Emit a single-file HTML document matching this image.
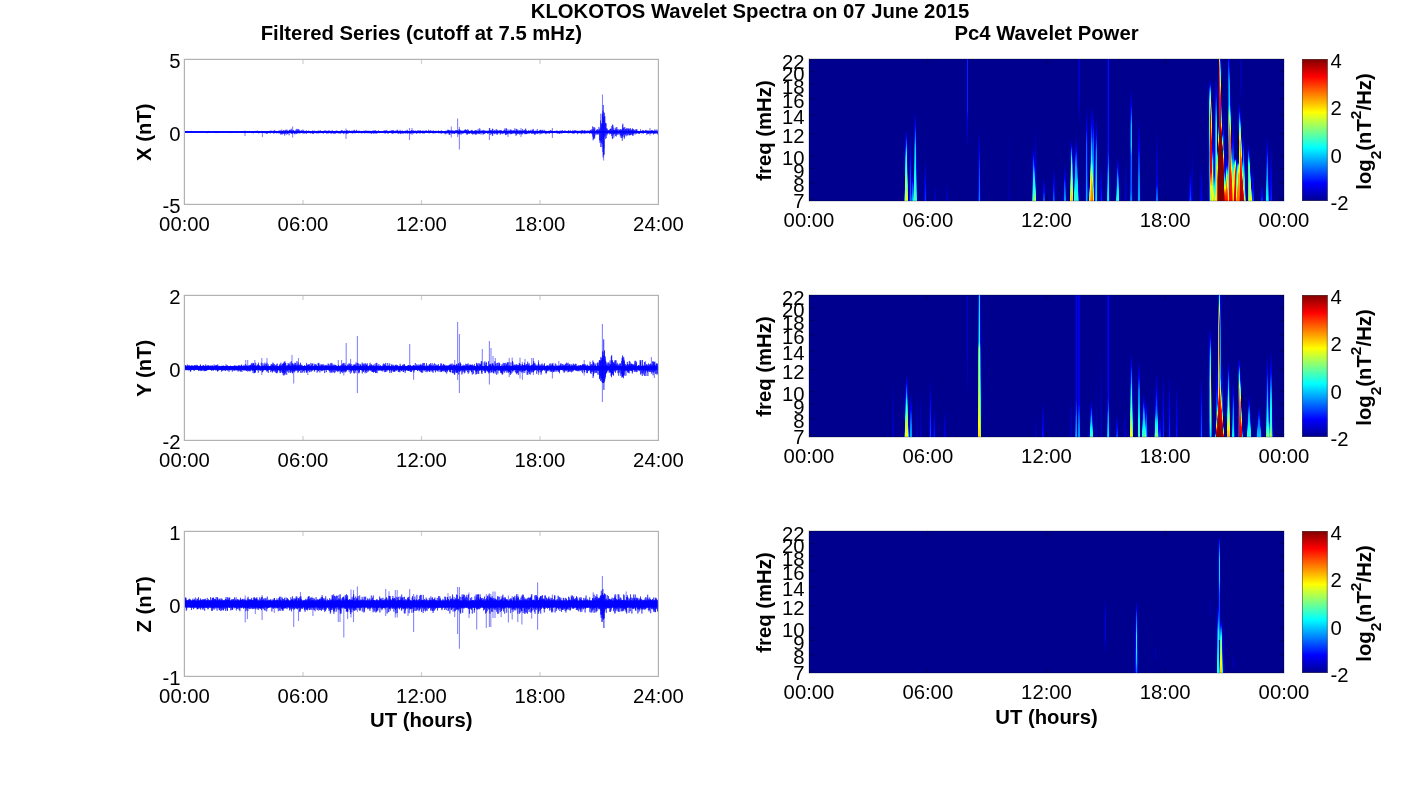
<!DOCTYPE html>
<html lang="en"><head><meta charset="utf-8"><title>KLOKOTOS Wavelet Spectra on 07 June 2015</title>
<style>html,body{margin:0;padding:0;background:#fff;overflow:hidden}svg{display:block}text{fill:#000}</style></head>
<body>
<svg width="1418" height="788" viewBox="0 0 1418 788" font-family="'Liberation Sans', Arial, Helvetica, sans-serif" font-size="20.3">
<defs>
<filter id="jet" filterUnits="userSpaceOnUse" x="790" y="40" width="520" height="660" color-interpolation-filters="sRGB"><feGaussianBlur stdDeviation="0.7 0.4"/><feComponentTransfer><feFuncR type="table" tableValues="0 0 0 0 .5 1 1 1 .5"/><feFuncG type="table" tableValues="0 0 .5 1 1 1 .5 0 0"/><feFuncB type="table" tableValues=".5625 1 1 1 .5 0 0 0 0"/></feComponentTransfer></filter>
<linearGradient id="cb" x1="0" y1="1" x2="0" y2="0"><stop offset="0" stop-color="#00008f"/><stop offset=".125" stop-color="#0000ff"/><stop offset=".375" stop-color="#00ffff"/><stop offset=".625" stop-color="#ffff00"/><stop offset=".875" stop-color="#ff0000"/><stop offset="1" stop-color="#800000"/></linearGradient>
<linearGradient id="pL" x1="0" y1="1" x2="0" y2="0"><stop offset="0%" stop-color="#fff" stop-opacity="1"/><stop offset="100%" stop-color="#fff" stop-opacity="0"/></linearGradient>
<linearGradient id="pC" x1="0" y1="1" x2="0" y2="0"><stop offset="0%" stop-color="#fff" stop-opacity="1"/><stop offset="35%" stop-color="#fff" stop-opacity="0.5"/><stop offset="100%" stop-color="#fff" stop-opacity="0"/></linearGradient>
<linearGradient id="pV" x1="0" y1="1" x2="0" y2="0"><stop offset="0%" stop-color="#fff" stop-opacity="1"/><stop offset="60%" stop-color="#fff" stop-opacity="0.75"/><stop offset="100%" stop-color="#fff" stop-opacity="0"/></linearGradient>
<linearGradient id="pI" x1="0" y1="1" x2="0" y2="0"><stop offset="0%" stop-color="#fff" stop-opacity="0"/><stop offset="45%" stop-color="#fff" stop-opacity="1"/><stop offset="100%" stop-color="#fff" stop-opacity="1"/></linearGradient>
<linearGradient id="pU" x1="0" y1="1" x2="0" y2="0"><stop offset="0%" stop-color="#fff" stop-opacity="1"/><stop offset="100%" stop-color="#fff" stop-opacity="1"/></linearGradient>
<linearGradient id="pM" x1="0" y1="1" x2="0" y2="0"><stop offset="0%" stop-color="#fff" stop-opacity="0.58"/><stop offset="12%" stop-color="#fff" stop-opacity="0.7"/><stop offset="25%" stop-color="#fff" stop-opacity="1"/><stop offset="70%" stop-color="#fff" stop-opacity="1"/><stop offset="85%" stop-color="#fff" stop-opacity="0.6"/><stop offset="100%" stop-color="#fff" stop-opacity="0"/></linearGradient>
<linearGradient id="pN" x1="0" y1="1" x2="0" y2="0"><stop offset="0%" stop-color="#fff" stop-opacity="0.55"/><stop offset="15%" stop-color="#fff" stop-opacity="0.85"/><stop offset="30%" stop-color="#fff" stop-opacity="1"/><stop offset="50%" stop-color="#fff" stop-opacity="1"/><stop offset="80%" stop-color="#fff" stop-opacity="0.5"/><stop offset="100%" stop-color="#fff" stop-opacity="0"/></linearGradient>
<clipPath id="c0"><rect x="809" y="59" width="475" height="142"/></clipPath>
<clipPath id="c1"><rect x="809" y="295" width="475" height="142"/></clipPath>
<clipPath id="c2"><rect x="809" y="531" width="475" height="142"/></clipPath>
</defs>
<g font-weight="bold" text-anchor="middle">
<text x="750" y="17.8">KLOKOTOS Wavelet Spectra on 07 June 2015</text>
<text x="421.3" y="39.5">Filtered Series (cutoff at 7.5 mHz)</text>
<text x="1046.5" y="39.5">Pc4 Wavelet Power</text>
<text x="421.3" y="727.2">UT (hours)</text>
<text x="1046.5" y="723.5">UT (hours)</text>
<text transform="translate(151.3 132.3) rotate(-90)">X (nT)</text>
<text transform="translate(151.3 368.3) rotate(-90)">Y (nT)</text>
<text transform="translate(151.3 604.3) rotate(-90)">Z (nT)</text>
<text transform="translate(770.5 130.5) rotate(-90)">freq (mHz)</text>
<text transform="translate(1371.2 131.5) rotate(-90)">log<tspan font-size="15.5" dy="10">2</tspan><tspan dy="-10">(nT</tspan><tspan font-size="15.5" dy="-10">2</tspan><tspan dy="10">/Hz)</tspan></text>
<text transform="translate(770.5 366.5) rotate(-90)">freq (mHz)</text>
<text transform="translate(1371.2 367.5) rotate(-90)">log<tspan font-size="15.5" dy="10">2</tspan><tspan dy="-10">(nT</tspan><tspan font-size="15.5" dy="-10">2</tspan><tspan dy="10">/Hz)</tspan></text>
<text transform="translate(770.5 602.5) rotate(-90)">freq (mHz)</text>
<text transform="translate(1371.2 603.5) rotate(-90)">log<tspan font-size="15.5" dy="10">2</tspan><tspan dy="-10">(nT</tspan><tspan font-size="15.5" dy="-10">2</tspan><tspan dy="10">/Hz)</tspan></text>
</g>
<g text-anchor="middle">
<text x="184.5" y="231">00:00</text>
<text x="303" y="231">06:00</text>
<text x="421.5" y="231">12:00</text>
<text x="540" y="231">18:00</text>
<text x="658.5" y="231">24:00</text>
</g>
<g text-anchor="end">
<text x="180.6" y="68.3">5</text>
<text x="180.6" y="140.8">0</text>
<text x="180.6" y="213.3">-5</text>
</g>
<g text-anchor="middle">
<text x="184.5" y="467">00:00</text>
<text x="303" y="467">06:00</text>
<text x="421.5" y="467">12:00</text>
<text x="540" y="467">18:00</text>
<text x="658.5" y="467">24:00</text>
</g>
<g text-anchor="end">
<text x="180.6" y="304.3">2</text>
<text x="180.6" y="376.8">0</text>
<text x="180.6" y="449.3">-2</text>
</g>
<g text-anchor="middle">
<text x="184.5" y="703">00:00</text>
<text x="303" y="703">06:00</text>
<text x="421.5" y="703">12:00</text>
<text x="540" y="703">18:00</text>
<text x="658.5" y="703">24:00</text>
</g>
<g text-anchor="end">
<text x="180.6" y="540.3">1</text>
<text x="180.6" y="612.8">0</text>
<text x="180.6" y="685.3">-1</text>
</g>
<g text-anchor="middle">
<text x="809" y="226.8">00:00</text>
<text x="927.8" y="226.8">06:00</text>
<text x="1046.5" y="226.8">12:00</text>
<text x="1165.2" y="226.8">18:00</text>
<text x="1284" y="226.8">00:00</text>
</g>
<g text-anchor="end">
<text x="804.6" y="208.1">7</text>
<text x="804.6" y="191.9">8</text>
<text x="804.6" y="177.6">9</text>
<text x="804.6" y="164.9">10</text>
<text x="804.6" y="142.8">12</text>
<text x="804.6" y="124.1">14</text>
<text x="804.6" y="107.9">16</text>
<text x="804.6" y="93.6">18</text>
<text x="804.6" y="80.9">20</text>
<text x="804.6" y="69.3">22</text>
</g>
<rect x="1302" y="59" width="25.7" height="142" fill="url(#cb)"/>
<rect x="1302.5" y="59.5" width="24.7" height="141" fill="none" stroke="#444" stroke-opacity=".55" stroke-width="1"/>
<text x="1330.4" y="68.1">4</text>
<text x="1330.4" y="115.4">2</text>
<text x="1330.4" y="162.8">0</text>
<text x="1330.4" y="210.1">-2</text>
<g text-anchor="middle">
<text x="809" y="462.8">00:00</text>
<text x="927.8" y="462.8">06:00</text>
<text x="1046.5" y="462.8">12:00</text>
<text x="1165.2" y="462.8">18:00</text>
<text x="1284" y="462.8">00:00</text>
</g>
<g text-anchor="end">
<text x="804.6" y="444.1">7</text>
<text x="804.6" y="427.9">8</text>
<text x="804.6" y="413.6">9</text>
<text x="804.6" y="400.9">10</text>
<text x="804.6" y="378.8">12</text>
<text x="804.6" y="360.1">14</text>
<text x="804.6" y="343.9">16</text>
<text x="804.6" y="329.6">18</text>
<text x="804.6" y="316.9">20</text>
<text x="804.6" y="305.3">22</text>
</g>
<rect x="1302" y="295" width="25.7" height="142" fill="url(#cb)"/>
<rect x="1302.5" y="295.5" width="24.7" height="141" fill="none" stroke="#444" stroke-opacity=".55" stroke-width="1"/>
<text x="1330.4" y="304.1">4</text>
<text x="1330.4" y="351.4">2</text>
<text x="1330.4" y="398.8">0</text>
<text x="1330.4" y="446.1">-2</text>
<g text-anchor="middle">
<text x="809" y="698.8">00:00</text>
<text x="927.8" y="698.8">06:00</text>
<text x="1046.5" y="698.8">12:00</text>
<text x="1165.2" y="698.8">18:00</text>
<text x="1284" y="698.8">00:00</text>
</g>
<g text-anchor="end">
<text x="804.6" y="680.1">7</text>
<text x="804.6" y="663.9">8</text>
<text x="804.6" y="649.6">9</text>
<text x="804.6" y="636.9">10</text>
<text x="804.6" y="614.8">12</text>
<text x="804.6" y="596.1">14</text>
<text x="804.6" y="579.9">16</text>
<text x="804.6" y="565.6">18</text>
<text x="804.6" y="552.9">20</text>
<text x="804.6" y="541.3">22</text>
</g>
<rect x="1302" y="531" width="25.7" height="142" fill="url(#cb)"/>
<rect x="1302.5" y="531.5" width="24.7" height="141" fill="none" stroke="#444" stroke-opacity=".55" stroke-width="1"/>
<text x="1330.4" y="540.1">4</text>
<text x="1330.4" y="587.4">2</text>
<text x="1330.4" y="634.8">0</text>
<text x="1330.4" y="682.1">-2</text>
<path d="M303 59.5v4.5M303 204.5v-4.5M421.5 59.5v4.5M421.5 204.5v-4.5M540 59.5v4.5M540 204.5v-4.5M184.5 132h4.5M658.5 132h-4.5" stroke="#cfcfcf" stroke-width="1.2" fill="none"/>
<path d="M303 295.5v4.5M303 440.5v-4.5M421.5 295.5v4.5M421.5 440.5v-4.5M540 295.5v4.5M540 440.5v-4.5M184.5 368h4.5M658.5 368h-4.5" stroke="#cfcfcf" stroke-width="1.2" fill="none"/>
<path d="M303 531.5v4.5M303 676.5v-4.5M421.5 531.5v4.5M421.5 676.5v-4.5M540 531.5v4.5M540 676.5v-4.5M184.5 604h4.5M658.5 604h-4.5" stroke="#cfcfcf" stroke-width="1.2" fill="none"/>
<path d="M184.5 132H658.5" stroke="#00f" stroke-width="1.7" fill="none"/>
<path d="M184.5 131.2 184.7 132.6 184.9 131.2 185.1 132.6 185.3 131.2 185.5 132.5 185.7 131.4 185.9 132.8 186.1 131.2 186.3 132.8 186.5 131.3 186.7 132.6 186.9 131.1 187.1 132.8 187.3 131.5 187.5 132.6 187.7 130.9 187.9 132.6 188.1 131.3 188.3 132.8 188.5 131.5 188.7 132.5 188.9 131.4 189.1 132.5 189.3 131.4 189.5 132.7 189.7 131.2 189.9 132.6 190.1 131.1 190.3 132.7 190.5 131.1 190.7 132.6 190.9 131.1 191.1 132.5 191.3 131.3 191.5 132.6 191.7 130.9 191.9 132.5 192.1 131.3 192.3 132.8 192.5 131.4 192.7 132.7 192.9 131.5 193.1 132.6 193.3 131.5 193.5 132.8 193.7 131.4 193.9 132.7 194.1 131 194.3 132.6 194.5 131.3 194.7 132.5 194.9 131.3 195.1 132.7 195.3 131.2 195.5 132.5 195.7 131.2 195.9 132.7 196.1 131.5 196.3 132.7 196.5 131.3 196.7 132.6 196.9 131.1 197.1 132.6 197.3 131.4 197.5 132.6 197.7 131.4 197.9 132.6 198.1 131.4 198.3 132.7 198.5 131.2 198.7 132.6 198.9 131.3 199.1 132.9 199.3 131.3 199.5 132.8 199.7 131.3 199.9 132.7 200.1 131.4 200.3 132.7 200.5 131.1 200.7 132.6 200.9 131.3 201.1 133 201.3 131.4 201.5 132.7 201.7 131.3 201.9 132.8 202.1 130.9 202.3 132.9 202.5 131.4 202.7 132.7 202.9 131.5 203.1 132.7 203.3 131.5 203.5 132.6 203.7 131.2 203.9 132.7 204.1 131.5 204.3 132.8 204.5 131.3 204.7 132.7 204.9 131.2 205.1 132.6 205.3 131.1 205.5 132.7 205.7 131.4 205.9 132.6 206.1 131.1 206.3 132.8 206.5 131.5 206.7 132.7 206.9 131.5 207.1 133.1 207.3 131.3 207.5 133.1 207.7 131.2 207.9 132.7 208.1 131.4 208.3 132.6 208.5 130.9 208.7 132.7 208.9 131.5 209.1 132.9 209.3 131.5 209.5 133 209.7 131.3 209.9 132.6 210.1 131.3 210.3 132.9 210.5 131.3 210.7 132.6 210.9 131 211.1 132.7 211.3 131.3 211.5 132.6 211.7 131.3 211.9 132.6 212.1 131.3 212.3 132.5 212.5 131.4 212.7 132.5 212.9 131.4 213.1 132.7 213.3 131.4 213.5 132.6 213.7 131.2 213.9 132.9 214.1 131.1 214.3 132.6 214.5 131.4 214.7 132.8 214.9 131.4 215.1 132.6 215.3 131 215.5 132.6 215.7 131.3 215.9 133.1 216.1 131.1 216.3 132.6 216.5 131.1 216.7 132.6 216.9 131.1 217.1 133.1 217.3 131.2 217.5 132.7 217.7 131.4 217.9 133 218.1 131.5 218.3 132.9 218.5 131.3 218.7 133 218.9 131.3 219.1 132.8 219.3 131.1 219.5 132.8 219.7 131.1 219.9 132.7 220.1 131.3 220.3 132.8 220.5 131.3 220.7 132.7 220.9 131.2 221.1 132.7 221.3 131.2 221.5 132.7 221.7 131 221.9 132.5 222.1 131.5 222.3 132.8 222.5 131.5 222.7 132.8 222.9 131.1 223.1 132.7 223.3 131.1 223.5 132.7 223.7 131.2 223.9 132.6 224.1 131.3 224.3 132.5 224.5 131.4 224.7 132.8 224.9 131.1 225.1 132.9 225.3 131.5 225.5 132.5 225.7 131.4 225.9 132.9 226.1 131.4 226.3 132.7 226.5 131.2 226.7 132.7 226.9 131 227.1 132.7 227.3 131.3 227.5 132.8 227.7 131.4 227.9 132.8 228.1 131.3 228.3 133 228.5 131.3 228.7 132.7 228.9 131.3 229.1 132.6 229.3 131.3 229.5 132.7 229.7 131.2 229.9 132.9 230.1 131.3 230.3 133.1 230.5 131.5 230.7 132.7 230.9 131.3 231.1 132.6 231.3 131.4 231.5 132.8 231.7 131.3 231.9 132.7 232.1 131.3 232.3 132.9 232.5 131.2 232.7 132.5 232.9 131.4 233.1 132.5 233.3 131.4 233.5 132.6 233.7 131.4 233.9 132.8 234.1 131.3 234.3 132.9 234.5 131.4 234.7 132.5 234.9 131.4 235.1 132.5 235.3 131.4 235.5 132.7 235.7 131.4 235.9 132.6 236.1 131.3 236.3 132.7 236.5 131.2 236.7 132.8 236.9 131.3 237.1 133.1 237.3 131.4 237.5 132.7 237.7 131.3 237.9 132.5 238.1 131.2 238.3 132.5 238.5 131.5 238.7 132.7 238.9 131.5 239.1 132.7 239.3 131.4 239.5 132.8 239.7 131.2 239.9 132.8 240.1 131.1 240.3 132.8 240.5 131.4 240.7 132.6 240.9 131.1 241.1 132.7 241.3 131.3 241.5 132.7 241.7 131.1 241.9 132.9 242.1 131.2 242.3 132.8 242.5 131.1 242.7 132.8 242.9 131.2 243.1 132.6 243.3 131.4 243.5 132.7 243.7 131.4 243.9 133 244.1 131.2 244.3 132.9 244.5 131.3 244.7 133.1 244.9 130.7 245.1 132.6 245.3 131 245.5 132.6 245.7 131.2 245.9 133.1 246.1 131.3 246.3 132.7 246.5 131.2 246.7 132.7 246.9 131 247.1 132.7 247.3 131.4 247.5 132.5 247.7 131.4 247.9 132.6 248.1 131.4 248.3 132.7 248.5 131.2 248.7 133 248.9 131.4 249.1 132.7 249.3 130.9 249.5 132.6 249.7 131.2 249.9 133 250.1 131.1 250.3 132.7 250.5 131.3 250.7 132.6 250.9 131.4 251.1 133 251.3 131.3 251.5 133.1 251.7 131.2 251.9 132.9 252.1 131.2 252.3 132.9 252.5 131.3 252.7 132.9 252.9 131 253.1 133.2 253.3 131.3 253.5 133.3 253.7 131 253.9 132.6 254.1 131.2 254.3 132.6 254.5 131 254.7 132.6 254.9 131.4 255.1 132.6 255.3 131 255.5 132.6 255.7 130.9 255.9 133 256.1 131 256.3 132.7 256.5 131.4 256.7 132.7 256.9 131.1 257.1 132.6 257.3 130.5 257.5 132.8 257.7 131.4 257.9 133 258.1 131.2 258.3 132.9 258.5 131.1 258.7 133.4 258.9 131.1 259.1 132.6 259.3 131.3 259.5 133.1 259.7 131.3 259.9 132.6 260.1 131.5 260.3 132.6 260.5 131.4 260.7 132.8 260.9 131.3 261.1 132.9 261.3 131.1 261.5 133 261.7 130.9 261.9 133 262.1 131.1 262.3 132.9 262.5 131.5 262.7 132.8 262.9 131 263.1 132.6 263.3 131.1 263.5 132.9 263.7 131.2 263.9 132.6 264.1 131.3 264.3 133.2 264.5 131.1 264.7 133 264.9 131.1 265.1 133.1 265.3 131.3 265.5 132.8 265.7 131.4 265.9 133.4 266.1 131.1 266.3 132.8 266.5 131 266.7 133.6 266.9 131.1 267.1 133.8 267.3 131.3 267.5 132.7 267.7 131.4 267.9 133.3 268.1 131.5 268.3 132.7 268.5 131.2 268.7 133 268.9 131.4 269.1 132.8 269.3 130.8 269.5 133 269.7 131.1 269.9 132.5 270.1 131 270.3 133.6 270.5 131.2 270.7 132.6 270.9 130.6 271.1 132.5 271.3 130.7 271.5 132.5 271.7 131.4 271.9 132.7 272.1 131.4 272.3 132.6 272.5 130.9 272.7 132.7 272.9 131.2 273.1 132.6 273.3 131.3 273.5 132.8 273.7 130.6 273.9 133.9 274.1 131.3 274.3 132.6 274.5 130.3 274.7 133 274.9 130.6 275.1 132.7 275.3 131.2 275.5 133 275.7 130.9 275.9 132.6 276.1 131.4 276.3 132.6 276.5 131.2 276.7 133.5 276.9 131.2 277.1 133 277.3 131.5 277.5 133.1 277.7 131.4 277.9 132.8 278.1 131.4 278.3 132.5 278.5 130.7 278.7 133.1 278.9 131.2 279.1 133.6 279.3 131.1 279.5 133 279.7 130.8 279.9 133 280.1 130 280.3 132.7 280.5 131.4 280.7 134.6 280.9 131.4 281.1 134.3 281.3 131.1 281.5 133.6 281.7 129.6 281.9 134 282.1 130.8 282.3 134.5 282.5 131.4 282.7 133.8 282.9 131.4 283.1 133 283.3 130.7 283.5 133.7 283.7 130.3 283.9 132.6 284.1 130.3 284.3 133.9 284.5 131.1 284.7 135.6 284.9 130.9 285.1 133.5 285.3 130.6 285.5 134 285.7 130.2 285.9 132.8 286.1 129.6 286.3 132.5 286.5 130.8 286.7 134.7 286.9 131.2 287.1 132.5 287.3 129.8 287.5 134 287.7 131.4 287.9 133.9 288.1 130.7 288.3 132.8 288.5 131.1 288.7 132.9 288.9 131.5 289.1 135.3 289.3 130 289.5 133 289.7 129.9 289.9 132.8 290.1 129.7 290.3 132.6 290.5 131.3 290.7 133 290.9 129.8 291.1 133.7 291.3 128.7 291.5 133.3 291.7 130.7 291.9 133.7 292.1 130.8 292.3 133.8 292.5 131.2 292.7 132.8 292.9 130.3 293.1 132.9 293.3 129.9 293.5 132.8 293.7 130.8 293.9 133.2 294.1 130.6 294.3 133.8 294.5 131.1 294.7 134.3 294.9 131.4 295.1 132.7 295.3 131.5 295.5 132.8 295.7 130.4 295.9 134.1 296.1 129.6 296.3 134 296.5 131.5 296.7 132.9 296.9 128.8 297.1 132.7 297.3 129.3 297.5 133.6 297.7 130.4 297.9 133 298.1 130.7 298.3 132.6 298.5 129 298.7 132.9 298.9 131.3 299.1 133.7 299.3 129.6 299.5 132.8 299.7 131.1 299.9 132.8 300.1 130.7 300.3 133.3 300.5 131.4 300.7 132.8 300.9 131 301.1 132.6 301.3 130.2 301.5 133 301.7 130.8 301.9 132.7 302.1 130.7 302.3 132.9 302.5 131.3 302.7 133.5 302.9 129.6 303.1 132.5 303.3 131.4 303.5 133 303.7 130.4 303.9 133.5 304.1 131.3 304.3 133.4 304.5 131.2 304.7 132.9 304.9 131.2 305.1 133.2 305.3 130.8 305.5 133 305.7 131.5 305.9 132.9 306.1 131.5 306.3 134.1 306.5 130.4 306.7 133.1 306.9 131.3 307.1 132.6 307.3 131.4 307.5 133.1 307.7 131.3 307.9 132.7 308.1 131.3 308.3 132.6 308.5 130.7 308.7 133 308.9 130.7 309.1 132.8 309.3 131 309.5 133 309.7 131.4 309.9 133 310.1 131.5 310.3 133.6 310.5 131.2 310.7 132.6 310.9 131.2 311.1 133.3 311.3 131.4 311.5 132.9 311.7 131.1 311.9 132.7 312.1 131.3 312.3 133 312.5 130.5 312.7 134 312.9 131.1 313.1 133.2 313.3 131.5 313.5 133.8 313.7 131 313.9 132.8 314.1 130.5 314.3 133.2 314.5 131.3 314.7 132.6 314.9 130.9 315.1 132.8 315.3 131.3 315.5 133 315.7 131.5 315.9 132.7 316.1 131.3 316.3 133.4 316.5 131 316.7 132.8 316.9 131.3 317.1 133.4 317.3 131.4 317.5 132.8 317.7 130.9 317.9 133.3 318.1 131.3 318.3 132.7 318.5 131.3 318.7 133.3 318.9 130.3 319.1 133.2 319.3 130.9 319.5 132.8 319.7 131.3 319.9 133 320.1 131.2 320.3 133.1 320.5 130.3 320.7 133 320.9 131.5 321.1 133.1 321.3 131.1 321.5 132.9 321.7 131 321.9 132.9 322.1 131.2 322.3 133.2 322.5 131.3 322.7 133.2 322.9 131.1 323.1 133.2 323.3 131 323.5 133.4 323.7 131.1 323.9 132.8 324.1 130.8 324.3 132.6 324.5 130.7 324.7 132.7 324.9 130.6 325.1 132.7 325.3 131.4 325.5 132.7 325.7 130.5 325.9 132.8 326.1 131.3 326.3 132.6 326.5 131.4 326.7 133.8 326.9 130.8 327.1 132.9 327.3 130.9 327.5 133.3 327.7 131.2 327.9 132.9 328.1 131.3 328.3 133.5 328.5 130.5 328.7 132.6 328.9 131.1 329.1 132.8 329.3 130.6 329.5 132.7 329.7 130.8 329.9 132.5 330.1 131.3 330.3 133.4 330.5 131 330.7 132.8 330.9 131.1 331.1 133.3 331.3 130.8 331.5 133.4 331.7 130.9 331.9 133.6 332.1 130.7 332.3 132.7 332.5 130.6 332.7 132.6 332.9 131.3 333.1 133.1 333.3 131.2 333.5 132.7 333.7 131.4 333.9 134.1 334.1 131.2 334.3 132.8 334.5 131.3 334.7 133.1 334.9 131.1 335.1 134 335.3 131 335.5 132.7 335.7 130.8 335.9 133.1 336.1 131.4 336.3 132.9 336.5 130.9 336.7 132.8 336.9 130.4 337.1 133.2 337.3 131.2 337.5 132.6 337.7 131.3 337.9 132.9 338.1 131.4 338.3 133.5 338.5 131.1 338.7 132.7 338.9 131.3 339.1 133 339.3 131 339.5 133.4 339.7 131.2 339.9 133.2 340.1 131.2 340.3 133.1 340.5 131.4 340.7 133.8 340.9 131 341.1 132.8 341.3 130 341.5 133 341.7 131.1 341.9 132.6 342.1 130.1 342.3 133 342.5 131.3 342.7 133.1 342.9 130.8 343.1 132.6 343.3 131.2 343.5 134.1 343.7 131.2 343.9 132.9 344.1 130.8 344.3 132.6 344.5 130.7 344.7 133.3 344.9 131.3 345.1 133.4 345.3 131.3 345.5 132.8 345.7 131.3 345.9 133 346.1 131 346.3 133.1 346.5 130.2 346.7 134.1 346.9 131.4 347.1 133.3 347.3 130.8 347.5 133.4 347.7 130.3 347.9 132.5 348.1 130.8 348.3 133.5 348.5 131 348.7 132.8 348.9 131.4 349.1 132.8 349.3 130.7 349.5 132.6 349.7 130.6 349.9 132.8 350.1 131.1 350.3 133 350.5 131.3 350.7 133.2 350.9 131.2 351.1 132.7 351.3 131.3 351.5 132.9 351.7 130.7 351.9 132.7 352.1 130.8 352.3 133.6 352.5 131.3 352.7 133.1 352.9 131 353.1 132.8 353.3 130.4 353.5 132.7 353.7 130.8 353.9 133.3 354.1 131 354.3 132.9 354.5 129.8 354.7 132.9 354.9 131 355.1 133.4 355.3 130.8 355.5 132.6 355.7 131.4 355.9 133 356.1 130.8 356.3 132.8 356.5 129.8 356.7 132.6 356.9 131.4 357.1 132.9 357.3 131.1 357.5 132.9 357.7 130.9 357.9 133.1 358.1 131.3 358.3 133.1 358.5 130.7 358.7 133.1 358.9 131.5 359.1 132.9 359.3 131.4 359.5 133.1 359.7 130.7 359.9 132.8 360.1 131.4 360.3 133.1 360.5 131.4 360.7 132.8 360.9 131.3 361.1 132.7 361.3 131.1 361.5 133.4 361.7 131.2 361.9 133.1 362.1 131.1 362.3 133.2 362.5 131.1 362.7 132.7 362.9 131.3 363.1 132.8 363.3 131.3 363.5 132.6 363.7 130.9 363.9 132.8 364.1 130.6 364.3 132.6 364.5 131.4 364.7 133.6 364.9 131.1 365.1 132.9 365.3 131.4 365.5 132.6 365.7 130.7 365.9 133 366.1 130.4 366.3 132.6 366.5 131.1 366.7 133.2 366.9 131 367.1 132.6 367.3 131 367.5 133.2 367.7 131 367.9 132.9 368.1 130.5 368.3 132.6 368.5 131.1 368.7 133.2 368.9 131 369.1 133.3 369.3 130.9 369.5 132.9 369.7 131.1 369.9 133 370.1 130.9 370.3 133.2 370.5 130.8 370.7 132.6 370.9 131.3 371.1 133.5 371.3 131.1 371.5 133.8 371.7 131.2 371.9 132.8 372.1 131.1 372.3 132.7 372.5 130.7 372.7 132.9 372.9 130.9 373.1 133.6 373.3 131.1 373.5 133 373.7 130.5 373.9 133.5 374.1 130.7 374.3 133.4 374.5 130.8 374.7 132.7 374.9 131.1 375.1 132.7 375.3 130.1 375.5 133.4 375.7 131.2 375.9 133.2 376.1 130.8 376.3 133.2 376.5 131.2 376.7 133.6 376.9 131.5 377.1 133.2 377.3 131.3 377.5 132.8 377.7 131.3 377.9 132.6 378.1 131.2 378.3 132.6 378.5 130.3 378.7 132.6 378.9 131.3 379.1 132.9 379.3 131.1 379.5 133.2 379.7 131 379.9 133 380.1 131.5 380.3 132.6 380.5 131.3 380.7 133 380.9 131.2 381.1 132.9 381.3 131.2 381.5 132.6 381.7 131.1 381.9 132.6 382.1 131.1 382.3 132.7 382.5 131.4 382.7 132.6 382.9 131.3 383.1 132.8 383.3 130.8 383.5 132.7 383.7 130.9 383.9 132.6 384.1 130.9 384.3 133.1 384.5 131.4 384.7 133.4 384.9 130 385.1 132.7 385.3 130.9 385.5 133.5 385.7 131 385.9 132.8 386.1 130.3 386.3 133 386.5 130.8 386.7 132.6 386.9 130.3 387.1 133 387.3 131.4 387.5 132.7 387.7 131.3 387.9 133.8 388.1 131.4 388.3 133.3 388.5 131.5 388.7 133 388.9 131.3 389.1 132.6 389.3 131 389.5 133 389.7 130.9 389.9 132.5 390.1 130.6 390.3 132.8 390.5 131 390.7 132.6 390.9 131.3 391.1 133.1 391.3 131.5 391.5 132.8 391.7 130.1 391.9 133.4 392.1 130.8 392.3 133.7 392.5 130.4 392.7 133.1 392.9 131.3 393.1 133.6 393.3 130.2 393.5 133.1 393.7 130.5 393.9 133.2 394.1 130.9 394.3 133.1 394.5 131.5 394.7 132.5 394.9 131.5 395.1 133.1 395.3 131.4 395.5 132.7 395.7 130.5 395.9 133.3 396.1 131 396.3 132.9 396.5 131.3 396.7 132.6 396.9 130 397.1 132.8 397.3 131.2 397.5 133.3 397.7 129.7 397.9 133.3 398.1 131 398.3 132.6 398.5 131 398.7 134 398.9 131.1 399.1 132.8 399.3 131.1 399.5 133.1 399.7 131.1 399.9 132.6 400.1 129.8 400.3 134.1 400.5 131.2 400.7 133.4 400.9 131 401.1 133.8 401.3 131.2 401.5 132.6 401.7 131.4 401.9 133.1 402.1 130.4 402.3 133.3 402.5 131.4 402.7 132.9 402.9 130.9 403.1 134.1 403.3 131.2 403.5 132.6 403.7 131.4 403.9 133.1 404.1 131.4 404.3 133 404.5 131.3 404.7 133 404.9 130.9 405.1 133.6 405.3 130.8 405.5 133.2 405.7 130.8 405.9 133.1 406.1 131.4 406.3 133.1 406.5 130.6 406.7 133 406.9 131.3 407.1 133.5 407.3 129.8 407.5 133.6 407.7 130.7 407.9 132.8 408.1 131.3 408.3 132.6 408.5 131 408.7 132.8 408.9 131.5 409.1 133.8 409.3 131 409.5 132.8 409.7 131.5 409.9 133 410.1 131.3 410.3 133.4 410.5 130.9 410.7 133.9 410.9 131.3 411.1 132.5 411.3 130.4 411.5 132.8 411.7 130.3 411.9 133.6 412.1 131.1 412.3 132.5 412.5 130.6 412.7 132.9 412.9 130.8 413.1 133.3 413.3 131.3 413.5 133.3 413.7 130.1 413.9 132.6 414.1 131.2 414.3 133.3 414.5 131.1 414.7 132.6 414.9 131.4 415.1 132.9 415.3 131.1 415.5 132.8 415.7 130.4 415.9 132.9 416.1 131.2 416.3 133.7 416.5 131.4 416.7 133.3 416.9 131.3 417.1 133.4 417.3 131.3 417.5 132.5 417.7 130.6 417.9 133.1 418.1 130.2 418.3 133.1 418.5 131.3 418.7 132.9 418.9 130.7 419.1 132.6 419.3 130.8 419.5 132.8 419.7 131.4 419.9 133.7 420.1 130.1 420.3 133.2 420.5 130.7 420.7 132.9 420.9 131.4 421.1 133 421.3 131.1 421.5 133 421.7 130.9 421.9 132.7 422.1 130.9 422.3 133.1 422.5 131.4 422.7 133.4 422.9 130.4 423.1 133.2 423.3 131.2 423.5 133 423.7 130.9 423.9 133.4 424.1 130.9 424.3 133.5 424.5 130.9 424.7 132.8 424.9 131.2 425.1 132.9 425.3 131.3 425.5 132.5 425.7 130.4 425.9 132.6 426.1 131.1 426.3 132.5 426.5 130.4 426.7 132.8 426.9 131 427.1 132.6 427.3 131.2 427.5 132.7 427.7 131.1 427.9 132.9 428.1 131.3 428.3 132.6 428.5 129.8 428.7 133 428.9 131.4 429.1 133.6 429.3 131.4 429.5 133 429.7 131 429.9 132.7 430.1 130 430.3 132.9 430.5 131.1 430.7 132.9 430.9 130.6 431.1 132.6 431.3 130.9 431.5 132.7 431.7 131.4 431.9 132.7 432.1 131 432.3 133.3 432.5 130.9 432.7 133.1 432.9 131 433.1 133 433.3 130.5 433.5 133.3 433.7 130.7 433.9 133.2 434.1 131.4 434.3 133.1 434.5 131.2 434.7 133.2 434.9 131.3 435.1 132.9 435.3 131.3 435.5 133.2 435.7 131.2 435.9 133.1 436.1 130.6 436.3 132.5 436.5 131.2 436.7 132.8 436.9 131.3 437.1 132.7 437.3 131.3 437.5 133 437.7 131.5 437.9 132.6 438.1 131.3 438.3 132.9 438.5 130.4 438.7 133.4 438.9 131.4 439.1 133 439.3 131.3 439.5 132.8 439.7 131 439.9 132.7 440.1 131.4 440.3 133.5 440.5 131.4 440.7 132.6 440.9 131.2 441.1 133.1 441.3 130.2 441.5 133.3 441.7 130.9 441.9 133.7 442.1 131.2 442.3 132.5 442.5 131 442.7 132.9 442.9 131 443.1 132.6 443.3 131.3 443.5 132.6 443.7 131.1 443.9 133.4 444.1 131 444.3 132.7 444.5 131.3 444.7 133.3 444.9 131.3 445.1 134.1 445.3 131 445.5 133.1 445.7 131.2 445.9 134.3 446.1 130.6 446.3 133.1 446.5 130.9 446.7 133.1 446.9 131.2 447.1 133.5 447.3 131.4 447.5 132.8 447.7 129.9 447.9 132.8 448.1 129.6 448.3 133.4 448.5 130.5 448.7 132.7 448.9 130.2 449.1 134.8 449.3 131.1 449.5 134.2 449.7 130 449.9 135 450.1 130.9 450.3 133.1 450.5 131.2 450.7 132.9 450.9 130.4 451.1 133 451.3 130.4 451.5 132.9 451.7 130.8 451.9 133.7 452.1 131.4 452.3 133.2 452.5 130.4 452.7 133.3 452.9 130.6 453.1 134 453.3 131.5 453.5 133 453.7 130.8 453.9 133.5 454.1 130.6 454.3 133.8 454.5 131 454.7 133.9 454.9 131.4 455.1 132.8 455.3 130.6 455.5 133.2 455.7 130.4 455.9 133 456.1 130.2 456.3 133 456.5 130.3 456.7 133.2 456.9 131.1 457.1 133.3 457.3 130.4 457.5 132.7 457.7 130.3 457.9 133.5 458.1 131.4 458.3 134.3 458.5 131 458.7 133.8 458.9 129.3 459.1 134.5 459.3 130.5 459.5 133.7 459.7 129.6 459.9 133.2 460.1 130.3 460.3 133.7 460.5 130.4 460.7 133.2 460.9 131.1 461.1 134.8 461.3 130.6 461.5 133.3 461.7 131.2 461.9 132.7 462.1 130.5 462.3 133.6 462.5 131.1 462.7 133.6 462.9 130.8 463.1 132.6 463.3 131.2 463.5 133.3 463.7 131.1 463.9 133.3 464.1 130 464.3 132.5 464.5 130.8 464.7 133.1 464.9 129.7 465.1 132.6 465.3 129.9 465.5 133 465.7 129.3 465.9 133.4 466.1 130.4 466.3 132.7 466.5 130 466.7 134.6 466.9 130.7 467.1 134.3 467.3 130.9 467.5 134.3 467.7 129.2 467.9 133 468.1 130.6 468.3 134 468.5 129.9 468.7 132.6 468.9 130.8 469.1 133.3 469.3 131.5 469.5 134 469.7 131.4 469.9 133.4 470.1 131.1 470.3 133.2 470.5 130.8 470.7 132.6 470.9 131.1 471.1 132.7 471.3 129.9 471.5 133.7 471.7 130.4 471.9 133.4 472.1 131.3 472.3 133.9 472.5 130.2 472.7 134.7 472.9 131.2 473.1 132.8 473.3 131.5 473.5 134 473.7 131.1 473.9 133.7 474.1 131.3 474.3 133.4 474.5 131.3 474.7 133.6 474.9 130.4 475.1 134.4 475.3 130.2 475.5 134.5 475.7 130.3 475.9 133.1 476.1 131 476.3 134.2 476.5 130.4 476.7 134.5 476.9 130.6 477.1 133.4 477.3 131 477.5 133.3 477.7 131.4 477.9 132.7 478.1 128.9 478.3 134.1 478.5 130.8 478.7 132.6 478.9 131 479.1 133.7 479.3 130.6 479.5 133.5 479.7 128.2 479.9 134.1 480.1 129.6 480.3 133.1 480.5 131.2 480.7 132.8 480.9 131 481.1 134.5 481.3 130.8 481.5 132.5 481.7 131.3 481.9 132.8 482.1 130.1 482.3 132.9 482.5 130.7 482.7 133.3 482.9 130.7 483.1 134.8 483.3 131.2 483.5 133.8 483.7 129.9 483.9 134 484.1 130.2 484.3 132.7 484.5 130.9 484.7 134 484.9 131.3 485.1 133.2 485.3 131.2 485.5 133.1 485.7 130.6 485.9 132.9 486.1 130.8 486.3 132.6 486.5 131.4 486.7 132.7 486.9 130.8 487.1 132.8 487.3 130.8 487.5 133.2 487.7 131.3 487.9 134 488.1 130.8 488.3 133.3 488.5 131 488.7 132.7 488.9 130.6 489.1 133.2 489.3 130.8 489.5 132.9 489.7 128.1 489.9 133 490.1 130.7 490.3 135 490.5 130.1 490.7 132.6 490.9 131 491.1 133.7 491.3 129.9 491.5 133.1 491.7 130.5 491.9 134 492.1 131 492.3 135.6 492.5 128.7 492.7 135.7 492.9 129.1 493.1 133.4 493.3 131.4 493.5 133.3 493.7 130.7 493.9 132.6 494.1 131.1 494.3 132.9 494.5 130.1 494.7 134.2 494.9 130.9 495.1 134 495.3 130.6 495.5 132.6 495.7 131.3 495.9 132.6 496.1 129.1 496.3 132.9 496.5 130.9 496.7 134.6 496.9 129.5 497.1 133.9 497.3 130.4 497.5 134.5 497.7 130.9 497.9 132.6 498.1 130.2 498.3 132.9 498.5 131.2 498.7 133.5 498.9 131.2 499.1 132.7 499.3 130.6 499.5 133 499.7 130.5 499.9 133.3 500.1 130.1 500.3 134.6 500.5 130.2 500.7 133.9 500.9 130.8 501.1 133.4 501.3 130.5 501.5 133.2 501.7 130.5 501.9 133.2 502.1 131.4 502.3 133.4 502.5 131.4 502.7 134.2 502.9 131.1 503.1 133.3 503.3 130.9 503.5 133 503.7 130.7 503.9 133.6 504.1 129.9 504.3 132.6 504.5 130.5 504.7 133.2 504.9 128.4 505.1 133.3 505.3 130.7 505.5 135.1 505.7 130.6 505.9 134.5 506.1 128.5 506.3 134.9 506.5 128.5 506.7 133.9 506.9 131.2 507.1 133.8 507.3 131.3 507.5 133.3 507.7 131.2 507.9 134.4 508.1 130.4 508.3 132.9 508.5 131 508.7 133.6 508.9 130.8 509.1 132.6 509.3 130.7 509.5 133.4 509.7 130.9 509.9 133.2 510.1 129.5 510.3 134.3 510.5 130.4 510.7 133.9 510.9 129.9 511.1 132.6 511.3 129.7 511.5 134.1 511.7 131 511.9 133.8 512.1 130.8 512.3 133.6 512.5 130.8 512.7 133.1 512.9 130.2 513.1 133.5 513.3 131.2 513.5 132.5 513.7 130.5 513.9 133.5 514.1 130.1 514.3 133.4 514.5 130.8 514.7 132.8 514.9 128.3 515.1 133.3 515.3 131.4 515.5 133.6 515.7 131.2 515.9 135.7 516.1 129.5 516.3 133.9 516.5 128.9 516.7 135.2 516.9 130.6 517.1 132.6 517.3 130.5 517.5 134 517.7 129.4 517.9 133.4 518.1 131.1 518.3 133.9 518.5 131 518.7 132.5 518.9 130.2 519.1 133.9 519.3 131.5 519.5 134.7 519.7 130.1 519.9 132.9 520.1 131 520.3 133.1 520.5 131.2 520.7 134.2 520.9 130.1 521.1 133.2 521.3 131.2 521.5 133.8 521.7 131.4 521.9 134.6 522.1 130.2 522.3 134.1 522.5 129.1 522.7 133.3 522.9 131.3 523.1 133.2 523.3 131.1 523.5 132.9 523.7 130.4 523.9 132.8 524.1 130 524.3 134.2 524.5 130.9 524.7 133 524.9 129.8 525.1 134 525.3 129.6 525.5 134.2 525.7 128.5 525.9 134 526.1 131.1 526.3 134.1 526.5 130.2 526.7 133.8 526.9 130.9 527.1 134.1 527.3 131.3 527.5 132.6 527.7 131 527.9 133.3 528.1 130.9 528.3 133.2 528.5 130.1 528.7 133.6 528.9 131.2 529.1 133 529.3 131.1 529.5 133.7 529.7 131.1 529.9 132.9 530.1 130.1 530.3 133.1 530.5 131 530.7 133.1 530.9 129.8 531.1 132.6 531.3 131.4 531.5 133.6 531.7 131.1 531.9 133.6 532.1 130.5 532.3 133.7 532.5 129.7 532.7 133.4 532.9 130.5 533.1 133.2 533.3 128.9 533.5 132.6 533.7 130.5 533.9 133.9 534.1 131.4 534.3 133.9 534.5 131 534.7 134.7 534.9 131 535.1 134.6 535.3 131 535.5 133.6 535.7 130.5 535.9 132.9 536.1 131.4 536.3 134 536.5 131.1 536.7 132.6 536.9 130.7 537.1 132.9 537.3 129 537.5 133.5 537.7 131.1 537.9 134.1 538.1 131.1 538.3 133.2 538.5 131 538.7 132.8 538.9 130.9 539.1 133 539.3 130.6 539.5 133 539.7 130.6 539.9 134.4 540.1 130.4 540.3 133.2 540.5 129.8 540.7 133.7 540.9 130.7 541.1 133 541.3 130.4 541.5 133.5 541.7 131.1 541.9 133.2 542.1 129.8 542.3 133.7 542.5 130.3 542.7 132.7 542.9 130.8 543.1 132.6 543.3 130.9 543.5 132.6 543.7 131 543.9 133.3 544.1 129.7 544.3 132.8 544.5 130.8 544.7 132.5 544.9 131.1 545.1 133.3 545.3 130.9 545.5 134.1 545.7 130.9 545.9 132.8 546.1 130.8 546.3 133 546.5 131.1 546.7 134.1 546.9 131.3 547.1 133.1 547.3 131.1 547.5 133 547.7 131.5 547.9 132.8 548.1 131.1 548.3 133.3 548.5 130.8 548.7 133.2 548.9 131.5 549.1 133.6 549.3 131.4 549.5 133.5 549.7 131 549.9 133 550.1 130.3 550.3 132.6 550.5 130.3 550.7 132.9 550.9 130.9 551.1 132.6 551.3 130.8 551.5 132.7 551.7 130.7 551.9 133.2 552.1 131.3 552.3 133.2 552.5 130.9 552.7 133.1 552.9 131.3 553.1 132.7 553.3 131 553.5 132.5 553.7 131.4 553.9 133 554.1 131.3 554.3 132.6 554.5 131.4 554.7 133.1 554.9 130.9 555.1 132.7 555.3 131.3 555.5 132.7 555.7 131.3 555.9 132.8 556.1 130.8 556.3 132.6 556.5 130.8 556.7 133 556.9 130.5 557.1 133.7 557.3 131.4 557.5 132.6 557.7 130.9 557.9 133.4 558.1 131.4 558.3 133.4 558.5 131.1 558.7 133.1 558.9 131.2 559.1 132.6 559.3 131 559.5 134 559.7 130.8 559.9 133.4 560.1 130.9 560.3 132.7 560.5 131.1 560.7 132.7 560.9 130.5 561.1 133.4 561.3 131.2 561.5 133.1 561.7 130.8 561.9 133.5 562.1 130.8 562.3 132.8 562.5 130.2 562.7 132.5 562.9 131.1 563.1 132.8 563.3 131.5 563.5 133 563.7 131.1 563.9 133 564.1 130.9 564.3 132.6 564.5 130.9 564.7 132.8 564.9 130.4 565.1 132.9 565.3 130.8 565.5 132.8 565.7 130.9 565.9 132.7 566.1 131.4 566.3 132.8 566.5 131.1 566.7 132.9 566.9 131 567.1 132.6 567.3 131.5 567.5 133.2 567.7 130.9 567.9 132.5 568.1 131.4 568.3 132.5 568.5 130.2 568.7 133.4 568.9 130.9 569.1 133.1 569.3 131.1 569.5 132.9 569.7 130.8 569.9 133 570.1 131.2 570.3 133.2 570.5 130.4 570.7 132.6 570.9 131.2 571.1 132.6 571.3 131.5 571.5 133 571.7 131.3 571.9 133.2 572.1 131.1 572.3 133 572.5 131.3 572.7 133.5 572.9 129.9 573.1 133.5 573.3 131.2 573.5 133 573.7 131 573.9 133.6 574.1 131.3 574.3 133.4 574.5 130.5 574.7 132.9 574.9 130.6 575.1 132.8 575.3 130.1 575.5 133 575.7 131.4 575.9 132.6 576.1 130.5 576.3 133 576.5 131.4 576.7 132.5 576.9 131.4 577.1 133.2 577.3 130.7 577.5 134.2 577.7 131.3 577.9 132.6 578.1 131.3 578.3 133.2 578.5 131.5 578.7 133.2 578.9 130.8 579.1 132.7 579.3 131.1 579.5 132.9 579.7 131.5 579.9 132.8 580.1 130.5 580.3 133.4 580.5 131.1 580.7 133.2 580.9 131.2 581.1 132.7 581.3 130.9 581.5 134.1 581.7 130.1 581.9 133.1 582.1 131.3 582.3 133.2 582.5 130.2 582.7 132.8 582.9 130.5 583.1 133.5 583.3 131.3 583.5 132.5 583.7 130.9 583.9 132.8 584.1 130.8 584.3 133.9 584.5 130.4 584.7 132.6 584.9 130.6 585.1 133.3 585.3 130.6 585.5 133.2 585.7 131 585.9 133.3 586.1 131.3 586.3 133.2 586.5 131.1 586.7 133.1 586.9 130.7 587.1 133 587.3 130.7 587.5 133.2 587.7 131.1 587.9 133.1 588.1 130.7 588.3 133 588.5 130.8 588.7 132.6 588.9 131.3 589.1 133.1 589.3 131.4 589.5 133.9 589.7 130.9 589.9 132.8 590.1 130 590.3 133.1 590.5 130.5 590.7 133.4 590.9 130.4 591.1 133 591.3 129.3 591.5 133.4 591.7 130.7 591.9 133.5 592.1 130.7 592.3 134.2 592.5 126.3 592.7 136.6 592.9 129.3 593.1 140.3 593.3 129.4 593.5 139.2 593.7 127 593.9 137.8 594.1 127.3 594.3 139 594.5 129.2 594.7 137.9 594.9 127.7 595.1 135.4 595.3 131.2 595.5 133.7 595.7 130.9 595.9 133.2 596.1 130.8 596.3 133.1 596.5 129.8 596.7 134.6 596.9 130.2 597.1 134.2 597.3 129.2 597.5 134.4 597.7 129.2 597.9 133.3 598.1 130.5 598.3 133.3 598.5 130.3 598.7 134.5 598.9 126.9 599.1 133.7 599.3 129.9 599.5 140.1 599.7 128.8 599.9 142.9 600.1 128.3 600.3 141 600.5 120.5 600.7 147 600.9 113.7 601.1 141.9 601.3 123.9 601.5 142.9 601.7 123 601.9 147.1 602.1 124.6 602.3 144.1 602.5 114 602.7 139 602.9 110.4 603.1 157.4 603.3 105 603.5 155.3 603.7 117.2 603.9 148.5 604.1 116.6 604.3 154.6 604.5 112.8 604.7 136.8 604.9 116.2 605.1 135.7 605.3 122.8 605.5 138.9 605.7 123.2 605.9 133.9 606.1 123.5 606.3 138.2 606.5 128.8 606.7 133.5 606.9 128.1 607.1 135.3 607.3 129.2 607.5 133.7 607.7 130.7 607.9 133.5 608.1 130 608.3 133.2 608.5 130.3 608.7 133.1 608.9 131 609.1 133.2 609.3 129.9 609.5 134.4 609.7 129.7 609.9 133.1 610.1 129 610.3 133.4 610.5 129 610.7 134 610.9 128.3 611.1 134 611.3 129.6 611.5 135.8 611.7 126 611.9 133.5 612.1 130.1 612.3 138.6 612.5 124.5 612.7 138.9 612.9 125 613.1 133.9 613.3 129.9 613.5 134.6 613.7 127.5 613.9 137.6 614.1 130.3 614.3 134.1 614.5 130.1 614.7 134.4 614.9 130.1 615.1 133.5 615.3 128.4 615.5 136 615.7 129.4 615.9 133.7 616.1 127.4 616.3 136.5 616.5 129.7 616.7 134.8 616.9 127 617.1 134.3 617.3 129.6 617.5 133.5 617.7 129.2 617.9 135.1 618.1 130.8 618.3 133.3 618.5 131.1 618.7 133.4 618.9 129 619.1 134.3 619.3 130.2 619.5 133.1 619.7 129.9 619.9 134.5 620.1 129.9 620.3 136.4 620.5 129.1 620.7 134.8 620.9 129.9 621.1 138 621.3 129.9 621.5 136.1 621.7 129.6 621.9 138.2 622.1 129.4 622.3 140.8 622.5 125.1 622.7 136.2 622.9 123.6 623.1 137 623.3 127.7 623.5 135 623.7 128.4 623.9 134 624.1 127.5 624.3 138.9 624.5 130.4 624.7 137.4 624.9 127 625.1 134.2 625.3 129.1 625.5 135.4 625.7 129.1 625.9 134 626.1 129.9 626.3 133.5 626.5 128.3 626.7 136.2 626.9 128.7 627.1 134.9 627.3 130.8 627.5 135.3 627.7 128.3 627.9 133.2 628.1 128.8 628.3 134.6 628.5 129.3 628.7 133.7 628.9 128.1 629.1 135.5 629.3 129.1 629.5 135.1 629.7 130.2 629.9 135 630.1 128.9 630.3 135.2 630.5 128.2 630.7 134.7 630.9 130.3 631.1 132.9 631.3 130.6 631.5 134.7 631.7 129.8 631.9 133.9 632.1 129.3 632.3 134.8 632.5 128.3 632.7 135.7 632.9 129.4 633.1 135.7 633.3 130.6 633.5 134 633.7 129 633.9 134 634.1 130 634.3 133 634.5 130.7 634.7 132.8 634.9 130.4 635.1 134.6 635.3 130.8 635.5 133.2 635.7 129.2 635.9 133.1 636.1 130.7 636.3 133.9 636.5 129.7 636.7 133.3 636.9 129.1 637.1 133.3 637.3 130.9 637.5 132.6 637.7 131.5 637.9 132.8 638.1 130.8 638.3 133.4 638.5 131.3 638.7 133.9 638.9 131.4 639.1 133.3 639.3 131.4 639.5 133.8 639.7 131.2 639.9 133.4 640.1 131.1 640.3 132.7 640.5 129.3 640.7 132.9 640.9 131.3 641.1 132.7 641.3 130.9 641.5 132.8 641.7 131.2 641.9 133.4 642.1 130.9 642.3 133.2 642.5 130.2 642.7 133.1 642.9 130.5 643.1 133.2 643.3 131 643.5 133.6 643.7 130.2 643.9 132.9 644.1 131.3 644.3 132.7 644.5 131.3 644.7 132.5 644.9 130.7 645.1 132.9 645.3 131.1 645.5 132.6 645.7 129.9 645.9 133 646.1 130.4 646.3 132.6 646.5 130.5 646.7 134.7 646.9 131 647.1 133 647.3 131.2 647.5 134.2 647.7 130.6 647.9 132.6 648.1 130.1 648.3 133.6 648.5 131.4 648.7 134 648.9 131.3 649.1 133.4 649.3 130.9 649.5 133.2 649.7 130.8 649.9 132.7 650.1 130.9 650.3 133.1 650.5 131 650.7 133.9 650.9 130.6 651.1 132.8 651.3 130.8 651.5 133.1 651.7 130.2 651.9 133.8 652.1 130 652.3 132.7 652.5 130.5 652.7 133.2 652.9 131.4 653.1 133.2 653.3 131.2 653.5 134.5 653.7 130.8 653.9 133.6 654.1 130.4 654.3 133 654.5 131.3 654.7 133.9 654.9 129.3 655.1 133.1 655.3 130.8 655.5 133.6 655.7 130.6 655.9 132.6 656.1 131.4 656.3 133.2 656.5 131 656.7 132.9 656.9 129.3 657.1 134.1 657.3 130.9 657.5 134.3 657.7 130.5 657.9 132.9 658.1 130.8 658.3 134 658.5 130.6" stroke="#00f" stroke-width="0.42" stroke-linejoin="round" fill="none"/>
<path d="M245 131v5M262.4 131v6M292.6 126.5v11M346 128.5v10.5M409.5 128v12M412 128v7M451.3 126.5v11M457.6 118.5v18.5M459.4 127v22.5M489.4 128v12M508 129v8M521 128v9M552.4 128v10M602.5 94.5v57.5M603.6 112v48.5M650 128v7.5" stroke="#00f" stroke-width="1.1" stroke-opacity=".48" fill="none"/>
<path d="M184.5 368H658.5" stroke="#00f" stroke-width="3.6" fill="none"/>
<path d="M184.5 366 184.7 369.5 184.9 365.1 185.1 369.1 185.3 365.4 185.5 369.1 185.7 365.2 185.9 370.4 186.1 366.4 186.3 369.7 186.5 366.9 186.7 369.3 186.9 365.9 187.1 369.5 187.3 364.5 187.5 369.3 187.7 365.5 187.9 370.4 188.1 366.7 188.3 369.9 188.5 365.5 188.7 370.4 188.9 365.9 189.1 369.6 189.3 364.9 189.5 369.6 189.7 366.6 189.9 370.1 190.1 366.1 190.3 371.5 190.5 366.3 190.7 371.5 190.9 365.7 191.1 370.2 191.3 365.4 191.5 369.9 191.7 366.5 191.9 369.7 192.1 365.3 192.3 369.6 192.5 365.9 192.7 369.2 192.9 365.9 193.1 369.3 193.3 366.9 193.5 370.3 193.7 365.7 193.9 369.7 194.1 366.1 194.3 370.9 194.5 365 194.7 369.1 194.9 366.2 195.1 369.4 195.3 366.6 195.5 369.6 195.7 365.1 195.9 369.2 196.1 365.6 196.3 369.2 196.5 366.7 196.7 370 196.9 364.8 197.1 369.5 197.3 365.2 197.5 369.4 197.7 365.9 197.9 369.7 198.1 366.4 198.3 370.1 198.5 366.8 198.7 371.1 198.9 366.2 199.1 370.5 199.3 366.2 199.5 369.9 199.7 366.9 199.9 369.4 200.1 365.3 200.3 370.8 200.5 364.5 200.7 369.8 200.9 365.9 201.1 371.1 201.3 366 201.5 370.6 201.7 366 201.9 369.6 202.1 366 202.3 369.3 202.5 366.1 202.7 370.8 202.9 365.3 203.1 369.2 203.3 365.8 203.5 369.3 203.7 365.1 203.9 370.8 204.1 366.4 204.3 371.2 204.5 366.1 204.7 370.6 204.9 366.5 205.1 369.4 205.3 366.7 205.5 371.1 205.7 364.5 205.9 371 206.1 365.5 206.3 369.6 206.5 366.7 206.7 370.9 206.9 366.7 207.1 369.5 207.3 366.1 207.5 370 207.7 365.3 207.9 369.7 208.1 365.7 208.3 369.4 208.5 365.4 208.7 369.8 208.9 366 209.1 369.1 209.3 365.9 209.5 369.1 209.7 366.7 209.9 369.7 210.1 365.4 210.3 369.1 210.5 366.3 210.7 369.8 210.9 365.8 211.1 370.1 211.3 366.8 211.5 370.6 211.7 365.6 211.9 370.3 212.1 365.7 212.3 369.6 212.5 365.6 212.7 370.1 212.9 366.3 213.1 370.4 213.3 366.9 213.5 370.5 213.7 366.7 213.9 369.7 214.1 364.5 214.3 369.1 214.5 366.7 214.7 369.2 214.9 366.6 215.1 369.6 215.3 365.3 215.5 369.3 215.7 366.2 215.9 370.6 216.1 365.2 216.3 369.8 216.5 365.2 216.7 369.1 216.9 365.6 217.1 370.3 217.3 366 217.5 371.6 217.7 364.4 217.9 371.1 218.1 365.8 218.3 369.9 218.5 366.5 218.7 370.6 218.9 366.6 219.1 370.1 219.3 366.8 219.5 370 219.7 365.8 219.9 369.6 220.1 366.9 220.3 369.3 220.5 366.9 220.7 369.8 220.9 366 221.1 369.5 221.3 366.5 221.5 371.6 221.7 365.8 221.9 371 222.1 366.1 222.3 370.4 222.5 366 222.7 369.7 222.9 365.7 223.1 370.6 223.3 365.9 223.5 369.4 223.7 365.6 223.9 370.1 224.1 366.6 224.3 370.6 224.5 366.1 224.7 369.9 224.9 366.8 225.1 369.5 225.3 366.2 225.5 370.9 225.7 366 225.9 370.6 226.1 364.4 226.3 369.6 226.5 366.7 226.7 369.7 226.9 366.2 227.1 369.9 227.3 365.1 227.5 369.1 227.7 366.5 227.9 371.2 228.1 366.5 228.3 369.6 228.5 366.3 228.7 369.8 228.9 366.8 229.1 371.7 229.3 366.4 229.5 369.5 229.7 366.1 229.9 369.4 230.1 366.2 230.3 370.2 230.5 365.6 230.7 369.4 230.9 366.8 231.1 370.2 231.3 366.5 231.5 369.5 231.7 366.1 231.9 369.3 232.1 366.1 232.3 371.7 232.5 366.8 232.7 369.1 232.9 365.9 233.1 370.7 233.3 366 233.5 369.8 233.7 366.6 233.9 369.2 234.1 365.9 234.3 370.2 234.5 365.3 234.7 370.9 234.9 366.7 235.1 369.9 235.3 366 235.5 369.4 235.7 365.5 235.9 370.4 236.1 366.4 236.3 370.2 236.5 365.9 236.7 369.4 236.9 366.8 237.1 370.3 237.3 366.8 237.5 369.4 237.7 366.3 237.9 371.4 238.1 365.4 238.3 369.7 238.5 365.6 238.7 371.2 238.9 366.9 239.1 369.9 239.3 366.6 239.5 369.8 239.7 365.1 239.9 371.3 240.1 365.7 240.3 369.9 240.5 366.7 240.7 371.7 240.9 366.4 241.1 370.8 241.3 365.3 241.5 369.2 241.7 364.5 241.9 371.9 242.1 366 242.3 369.7 242.5 366.1 242.7 369.5 242.9 366.8 243.1 370.3 243.3 365.7 243.5 369.6 243.7 366.6 243.9 370.6 244.1 364.8 244.3 369.5 244.5 366.7 244.7 370.3 244.9 365.9 245.1 369.4 245.3 366 245.5 369.9 245.7 364.3 245.9 369.7 246.1 365.9 246.3 370.9 246.5 366.5 246.7 370.6 246.9 364.9 247.1 371 247.3 366.8 247.5 369.6 247.7 366.8 247.9 370 248.1 366.1 248.3 369.2 248.5 366.7 248.7 371.1 248.9 365.2 249.1 371 249.3 365.4 249.5 370 249.7 366.5 249.9 371.4 250.1 364.9 250.3 371.2 250.5 364.7 250.7 369.6 250.9 366.6 251.1 369.4 251.3 365.3 251.5 369.1 251.7 363.5 251.9 370.5 252.1 362.8 252.3 369.9 252.5 365.1 252.7 371.1 252.9 364.2 253.1 373.2 253.3 363.3 253.5 369.3 253.7 363 253.9 370.8 254.1 364.9 254.3 373.2 254.5 365.8 254.7 372.8 254.9 365 255.1 372.9 255.3 366.9 255.5 371.9 255.7 362.8 255.9 370.3 256.1 365.3 256.3 370 256.5 366.5 256.7 369.2 256.9 366.2 257.1 370.2 257.3 365.8 257.5 370.3 257.7 364.5 257.9 369.9 258.1 364.9 258.3 372.7 258.5 362.7 258.7 369.2 258.9 365 259.1 369.5 259.3 365.7 259.5 369.9 259.7 365.8 259.9 370.8 260.1 366.3 260.3 369.2 260.5 366.9 260.7 370.9 260.9 366.9 261.1 370.1 261.3 362.7 261.5 369.6 261.7 366.4 261.9 369.4 262.1 365.5 262.3 372.3 262.5 366.5 262.7 372 262.9 363.2 263.1 370.6 263.3 366.1 263.5 370.5 263.7 365.9 263.9 369.2 264.1 364.7 264.3 369.5 264.5 365.9 264.7 370.2 264.9 362.7 265.1 369.9 265.3 364.2 265.5 369.4 265.7 366.5 265.9 370.2 266.1 366.3 266.3 369.4 266.5 364.3 266.7 371.5 266.9 362.7 267.1 369.9 267.3 366.6 267.5 371.3 267.7 366.4 267.9 370.5 268.1 364.2 268.3 372.9 268.5 365.7 268.7 369.8 268.9 366.2 269.1 369.4 269.3 366.6 269.5 369.1 269.7 366.4 269.9 369.5 270.1 366.3 270.3 370.1 270.5 366.7 270.7 372.1 270.9 364.6 271.1 369.7 271.3 366.1 271.5 370.6 271.7 364 271.9 371 272.1 365.2 272.3 372.6 272.5 364.9 272.7 371.5 272.9 362.6 273.1 369.9 273.3 363.5 273.5 370.6 273.7 365.2 273.9 371.4 274.1 366.8 274.3 369.3 274.5 364.1 274.7 371.5 274.9 366.8 275.1 370.1 275.3 366.5 275.5 371.6 275.7 364.9 275.9 372.9 276.1 366.7 276.3 369.7 276.5 364.5 276.7 373.2 276.9 366.8 277.1 373.2 277.3 363.6 277.5 371.5 277.7 366.7 277.9 371.4 278.1 366.6 278.3 369.9 278.5 366.9 278.7 369.9 278.9 366.3 279.1 369.7 279.3 365.6 279.5 370.7 279.7 364.6 279.9 372.8 280.1 364.1 280.3 371.2 280.5 366.1 280.7 373 280.9 362.7 281.1 369.2 281.3 366.5 281.5 371.5 281.7 364.9 281.9 370.1 282.1 365.8 282.3 372.6 282.5 364 282.7 372.9 282.9 363.7 283.1 374.8 283.3 363.6 283.5 372.1 283.7 363.2 283.9 375.6 284.1 361.9 284.3 374.4 284.5 363.3 284.7 372.3 284.9 361.2 285.1 374.6 285.3 363.3 285.5 373.1 285.7 362.9 285.9 369.3 286.1 366.2 286.3 370.6 286.5 366.9 286.7 374.8 286.9 365 287.1 370.5 287.3 365.4 287.5 371.3 287.7 366.2 287.9 371.3 288.1 363 288.3 369.2 288.5 364.4 288.7 372.8 288.9 364.9 289.1 369.5 289.3 363.9 289.5 370 289.7 366.1 289.9 371.6 290.1 362.4 290.3 373 290.5 366.8 290.7 370.8 290.9 364.9 291.1 372.4 291.3 361.2 291.5 370.2 291.7 366 291.9 370.2 292.1 363.4 292.3 372.6 292.5 363.9 292.7 373.4 292.9 363.4 293.1 371.8 293.3 366.4 293.5 370.7 293.7 364.8 293.9 371.3 294.1 365.5 294.3 370.6 294.5 364.9 294.7 372.3 294.9 362.7 295.1 370.3 295.3 363 295.5 370.6 295.7 364.7 295.9 370.4 296.1 365.3 296.3 369.6 296.5 365.8 296.7 370.9 296.9 361.2 297.1 369.9 297.3 364.4 297.5 370.2 297.7 365.9 297.9 372.8 298.1 362.5 298.3 370.9 298.5 365.9 298.7 369.2 298.9 365 299.1 370.9 299.3 365.1 299.5 370.9 299.7 366.6 299.9 369.8 300.1 364.1 300.3 369.8 300.5 362.7 300.7 372.8 300.9 366.2 301.1 369.8 301.3 364.8 301.5 369.5 301.7 365.8 301.9 372.9 302.1 364.9 302.3 369.4 302.5 366.7 302.7 372.1 302.9 366 303.1 369.3 303.3 366.4 303.5 370.9 303.7 366 303.9 371 304.1 366.6 304.3 372.7 304.5 365 304.7 370 304.9 366.5 305.1 369.4 305.3 366.1 305.5 369.9 305.7 366.6 305.9 370.7 306.1 365.8 306.3 372.4 306.5 362.9 306.7 372.7 306.9 365 307.1 372.2 307.3 366 307.5 370.4 307.7 365.2 307.9 369.6 308.1 364.1 308.3 370.4 308.5 364.9 308.7 371.1 308.9 365.7 309.1 369.8 309.3 364 309.5 372.2 309.7 365.5 309.9 369.5 310.1 366.2 310.3 369.4 310.5 366.4 310.7 371.7 310.9 362.9 311.1 369.8 311.3 365 311.5 371.5 311.7 366.4 311.9 369.7 312.1 363.6 312.3 370.9 312.5 363.7 312.7 369.1 312.9 366.8 313.1 369.9 313.3 366.7 313.5 369.6 313.7 366.4 313.9 369.4 314.1 363.6 314.3 371.5 314.5 365.4 314.7 371.1 314.9 365.7 315.1 369.7 315.3 364.9 315.5 369.2 315.7 364 315.9 369.9 316.1 366.3 316.3 369.9 316.5 364.7 316.7 369.2 316.9 366.8 317.1 372.7 317.3 366.6 317.5 369.9 317.7 366.1 317.9 371.5 318.1 362.9 318.3 370.5 318.5 364 318.7 371 318.9 362.9 319.1 369.3 319.3 366 319.5 369.8 319.7 365.7 319.9 372.5 320.1 364.4 320.3 370.1 320.5 366.8 320.7 369.9 320.9 365.8 321.1 370.9 321.3 364.4 321.5 369.4 321.7 364.9 321.9 371.2 322.1 366.3 322.3 370.5 322.5 365.4 322.7 370.3 322.9 364.1 323.1 370.2 323.3 364.7 323.5 369.4 323.7 366.5 323.9 370.5 324.1 365.7 324.3 369.9 324.5 366.8 324.7 373.1 324.9 364.8 325.1 369.3 325.3 366.5 325.5 369.8 325.7 365.2 325.9 369.5 326.1 365.9 326.3 372.2 326.5 364.9 326.7 370 326.9 366.1 327.1 369.3 327.3 366.7 327.5 369.2 327.7 365.5 327.9 369.6 328.1 363.5 328.3 370.2 328.5 366.3 328.7 370.4 328.9 363.9 329.1 369.2 329.3 365.3 329.5 370.8 329.7 366.4 329.9 372.5 330.1 366.3 330.3 369.3 330.5 363.4 330.7 371.4 330.9 365.7 331.1 373.1 331.3 365.8 331.5 371.9 331.7 362.9 331.9 370.1 332.1 363.6 332.3 370.3 332.5 365.8 332.7 372.5 332.9 365.6 333.1 369.6 333.3 365.7 333.5 372.2 333.7 364.6 333.9 369.7 334.1 366.9 334.3 369.4 334.5 365.4 334.7 373.1 334.9 364.7 335.1 372 335.3 364.9 335.5 370.4 335.7 366.3 335.9 369.3 336.1 365.1 336.3 369.2 336.5 366.2 336.7 371.1 336.9 366.3 337.1 371.1 337.3 366.3 337.5 370.7 337.7 366.2 337.9 372.2 338.1 366.6 338.3 370.4 338.5 364.8 338.7 370.3 338.9 365.7 339.1 370.8 339.3 366.3 339.5 369.4 339.7 365.9 339.9 371.6 340.1 366.4 340.3 373.7 340.5 366.4 340.7 370.6 340.9 365.1 341.1 369.6 341.3 366.8 341.5 372.2 341.7 364.6 341.9 371.5 342.1 366 342.3 371.1 342.5 363.8 342.7 373 342.9 366.8 343.1 371.5 343.3 362.9 343.5 369.6 343.7 363.6 343.9 371.7 344.1 366.3 344.3 371.4 344.5 365.6 344.7 370.9 344.9 363 345.1 372.6 345.3 365.7 345.5 371.3 345.7 364.9 345.9 369.7 346.1 366.5 346.3 371.2 346.5 366.6 346.7 370.3 346.9 366.5 347.1 370.2 347.3 366.5 347.5 369.1 347.7 364.4 347.9 369.3 348.1 365.1 348.3 369.3 348.5 366.7 348.7 369.6 348.9 363.4 349.1 371.8 349.3 364.3 349.5 369.2 349.7 366 349.9 370 350.1 363.5 350.3 373.6 350.5 365.1 350.7 369.6 350.9 366.8 351.1 371 351.3 366.7 351.5 372.6 351.7 364.2 351.9 370.1 352.1 366.5 352.3 370.7 352.5 366.4 352.7 369.6 352.9 366 353.1 370.2 353.3 365 353.5 371.3 353.7 366.5 353.9 373.2 354.1 364.1 354.3 373.3 354.5 365 354.7 369.8 354.9 365.6 355.1 369.2 355.3 364.6 355.5 370.9 355.7 364.7 355.9 372.9 356.1 362.5 356.3 369.2 356.5 366.5 356.7 370.3 356.9 366.1 357.1 369.6 357.3 363 357.5 370.6 357.7 366.5 357.9 369.3 358.1 363.3 358.3 370.4 358.5 365.9 358.7 373.4 358.9 363.7 359.1 372.3 359.3 366.3 359.5 372.4 359.7 366.3 359.9 369.3 360.1 364.5 360.3 369.4 360.5 364.4 360.7 370 360.9 365.4 361.1 369.8 361.3 366 361.5 370.5 361.7 366.7 361.9 369.9 362.1 362.6 362.3 373.4 362.5 365.5 362.7 371.2 362.9 363.6 363.1 370.2 363.3 364.5 363.5 372 363.7 365.4 363.9 371.1 364.1 363.6 364.3 369.8 364.5 366.7 364.7 369.4 364.9 364.6 365.1 373.3 365.3 363.1 365.5 371.9 365.7 365.9 365.9 370.7 366.1 364.2 366.3 371 366.5 364.8 366.7 373 366.9 365.1 367.1 369.7 367.3 363.3 367.5 370.4 367.7 366.6 367.9 372 368.1 366 368.3 370 368.5 366.6 368.7 371.1 368.9 366.9 369.1 369.1 369.3 365.5 369.5 369.4 369.7 364.9 369.9 370.6 370.1 362.8 370.3 369.3 370.5 366.6 370.7 370.9 370.9 364.9 371.1 369.4 371.3 364.2 371.5 370.2 371.7 365.5 371.9 371.7 372.1 365.7 372.3 371.9 372.5 365.9 372.7 371.6 372.9 365.4 373.1 371.9 373.3 364.7 373.5 372.6 373.7 366 373.9 371.3 374.1 366.8 374.3 371.8 374.5 366.7 374.7 371.6 374.9 363.9 375.1 370.5 375.3 365.7 375.5 372.8 375.7 366.8 375.9 373.1 376.1 362.9 376.3 372.3 376.5 364.8 376.7 369.9 376.9 362.8 377.1 373.1 377.3 365.9 377.5 369.3 377.7 366.7 377.9 369.9 378.1 365.3 378.3 371 378.5 366.8 378.7 369.5 378.9 364 379.1 370.4 379.3 366 379.5 369.9 379.7 366.3 379.9 370.7 380.1 365.7 380.3 369.6 380.5 365.3 380.7 370.3 380.9 366.7 381.1 370.4 381.3 366.7 381.5 370.7 381.7 366.8 381.9 370.3 382.1 365.9 382.3 371.4 382.5 366.8 382.7 369.3 382.9 364.6 383.1 370.7 383.3 366.2 383.5 369.8 383.7 363.5 383.9 369.5 384.1 364 384.3 372.2 384.5 364.8 384.7 369.1 384.9 366.3 385.1 371.2 385.3 364.6 385.5 372.1 385.7 362.9 385.9 369.3 386.1 365.8 386.3 371.5 386.5 365.8 386.7 369.9 386.9 366.3 387.1 371.3 387.3 366.5 387.5 369.7 387.7 363 387.9 369.6 388.1 366.4 388.3 369.8 388.5 365.6 388.7 369.4 388.9 365.4 389.1 370.4 389.3 365.9 389.5 371.2 389.7 363.4 389.9 373 390.1 366.7 390.3 370.3 390.5 366.2 390.7 369.4 390.9 366.2 391.1 369.7 391.3 366.6 391.5 372.8 391.7 364.3 391.9 371.1 392.1 364.8 392.3 369.2 392.5 366.9 392.7 369.3 392.9 366.3 393.1 371.7 393.3 364.7 393.5 371.1 393.7 366.9 393.9 371.9 394.1 366.4 394.3 371.3 394.5 366.4 394.7 371.6 394.9 365.7 395.1 371.3 395.3 365 395.5 369.6 395.7 365.4 395.9 369.4 396.1 364.5 396.3 371 396.5 365.8 396.7 369.3 396.9 365.4 397.1 370.4 397.3 365.8 397.5 369.3 397.7 365.2 397.9 369.1 398.1 366.8 398.3 372 398.5 366.2 398.7 371.5 398.9 366.6 399.1 370.1 399.3 366.5 399.5 371.5 399.7 366.2 399.9 372.3 400.1 363.8 400.3 369.5 400.5 365.7 400.7 369.3 400.9 365.9 401.1 371.2 401.3 366.5 401.5 370.6 401.7 366.1 401.9 370.6 402.1 366.4 402.3 370.1 402.5 364.9 402.7 369.4 402.9 366.7 403.1 371.9 403.3 364.6 403.5 371.8 403.7 366 403.9 369.4 404.1 364.2 404.3 370.5 404.5 364.4 404.7 369.1 404.9 365.9 405.1 372.9 405.3 366.1 405.5 371.1 405.7 365.9 405.9 370.7 406.1 366.4 406.3 369.7 406.5 366.6 406.7 369.2 406.9 366.4 407.1 370.3 407.3 365.8 407.5 370.6 407.7 366.1 407.9 369.6 408.1 365 408.3 371.1 408.5 365.1 408.7 370.9 408.9 365.6 409.1 370.9 409.3 366.2 409.5 369.6 409.7 365.6 409.9 369.7 410.1 365.7 410.3 371.6 410.5 364.9 410.7 371.4 410.9 366.9 411.1 371.9 411.3 366.3 411.5 371.8 411.7 366 411.9 369.3 412.1 365.7 412.3 370.6 412.5 366.7 412.7 369.8 412.9 366.7 413.1 369.7 413.3 365.1 413.5 370 413.7 366.6 413.9 372.4 414.1 365.5 414.3 370.4 414.5 365.7 414.7 370.2 414.9 366.8 415.1 369.7 415.3 363 415.5 369.1 415.7 366.8 415.9 369.6 416.1 366.4 416.3 369.9 416.5 364.5 416.7 370 416.9 366.8 417.1 369.7 417.3 366.1 417.5 370.8 417.7 365.1 417.9 371.2 418.1 364.3 418.3 369.6 418.5 366 418.7 369.4 418.9 365.9 419.1 369.5 419.3 366.9 419.5 371 419.7 364.8 419.9 369.9 420.1 364.9 420.3 372.1 420.5 365.1 420.7 370.7 420.9 363.9 421.1 369.4 421.3 365.2 421.5 372.1 421.7 365.8 421.9 373 422.1 366 422.3 369.6 422.5 365 422.7 372.4 422.9 363.2 423.1 369.2 423.3 363 423.5 370.4 423.7 366.2 423.9 369.6 424.1 366.5 424.3 371.2 424.5 363 424.7 370.1 424.9 366.9 425.1 369.7 425.3 366.6 425.5 369.8 425.7 366.7 425.9 372.1 426.1 365.2 426.3 369.3 426.5 363.2 426.7 371 426.9 366.4 427.1 372.2 427.3 365.8 427.5 370.8 427.7 366.1 427.9 370.4 428.1 365.3 428.3 370 428.5 366.6 428.7 370.8 428.9 366 429.1 371.4 429.3 364.2 429.5 372 429.7 364.5 429.9 370.1 430.1 366.5 430.3 369.7 430.5 363.3 430.7 371.4 430.9 365.5 431.1 369.5 431.3 366.5 431.5 369.7 431.7 365 431.9 371.6 432.1 363.1 432.3 370.3 432.5 366.1 432.7 371.4 432.9 366.2 433.1 372.8 433.3 364.5 433.5 369.4 433.7 365.7 433.9 369.5 434.1 366.9 434.3 370.5 434.5 363.3 434.7 369.3 434.9 366.6 435.1 370.4 435.3 366.3 435.5 372.3 435.7 364.1 435.9 369.1 436.1 365.4 436.3 370.3 436.5 365.9 436.7 369.2 436.9 365.4 437.1 371.1 437.3 364.8 437.5 370.5 437.7 365.8 437.9 371.5 438.1 366.2 438.3 369.2 438.5 364.1 438.7 369.4 438.9 366 439.1 371.7 439.3 366.3 439.5 369.1 439.7 366 439.9 369.3 440.1 365.9 440.3 369.1 440.5 365.4 440.7 372.1 440.9 363.4 441.1 370.9 441.3 363.6 441.5 371.8 441.7 366.6 441.9 371.7 442.1 365.8 442.3 370.7 442.5 366 442.7 371 442.9 365.1 443.1 369.1 443.3 363.9 443.5 371.3 443.7 364.4 443.9 369.2 444.1 366.4 444.3 370.6 444.5 365.2 444.7 370.6 444.9 364.7 445.1 372.1 445.3 366.6 445.5 372.2 445.7 365.8 445.9 371.7 446.1 365.9 446.3 369.2 446.5 365.8 446.7 373.5 446.9 365.2 447.1 370.9 447.3 366.3 447.5 371.6 447.7 365.6 447.9 370.5 448.1 366.5 448.3 369.3 448.5 365.9 448.7 369.3 448.9 365 449.1 369.5 449.3 365.4 449.5 371.7 449.7 365.5 449.9 370.7 450.1 363.8 450.3 371.9 450.5 364.9 450.7 372.5 450.9 366.5 451.1 369.9 451.3 364.2 451.5 369.7 451.7 365.3 451.9 369.4 452.1 363.5 452.3 372.6 452.5 366.4 452.7 373.2 452.9 365.6 453.1 369.7 453.3 364.5 453.5 372.9 453.7 365.2 453.9 369.4 454.1 365.3 454.3 374.5 454.5 364.8 454.7 374.5 454.9 366.7 455.1 370.9 455.3 365.2 455.5 369.5 455.7 366.7 455.9 372.5 456.1 364.7 456.3 372.4 456.5 363.9 456.7 373 456.9 365.3 457.1 372 457.3 364.7 457.5 372.7 457.7 365.8 457.9 370.1 458.1 366.5 458.3 370.9 458.5 363.3 458.7 374.5 458.9 363.9 459.1 370.6 459.3 366.7 459.5 371.5 459.7 366.7 459.9 371.8 460.1 362.3 460.3 370.9 460.5 363.3 460.7 370.6 460.9 364.2 461.1 370.2 461.3 366.9 461.5 369.3 461.7 366.7 461.9 374.5 462.1 366.1 462.3 372.6 462.5 365.7 462.7 370.6 462.9 366.5 463.1 370.8 463.3 364.7 463.5 370 463.7 366 463.9 371.9 464.1 366.2 464.3 373.4 464.5 365.4 464.7 370.9 464.9 365.6 465.1 372.5 465.3 365.9 465.5 369.5 465.7 363.7 465.9 369.6 466.1 366.3 466.3 370.9 466.5 364.5 466.7 369.4 466.9 365.4 467.1 369.4 467.3 364.1 467.5 372.2 467.7 365.3 467.9 369.5 468.1 363.3 468.3 373.7 468.5 366.1 468.7 369.7 468.9 365.1 469.1 372.3 469.3 366.4 469.5 370.1 469.7 365.2 469.9 369.7 470.1 364.2 470.3 369.9 470.5 365.1 470.7 370.4 470.9 365.3 471.1 371 471.3 364.9 471.5 371.9 471.7 364.9 471.9 372.4 472.1 366.4 472.3 374.6 472.5 364.5 472.7 369.1 472.9 365.8 473.1 369.5 473.3 366.9 473.5 373.7 473.7 365.3 473.9 369.2 474.1 366.3 474.3 370.5 474.5 364.2 474.7 369.4 474.9 366.5 475.1 369.3 475.3 366.6 475.5 371.2 475.7 366.2 475.9 374.6 476.1 366.5 476.3 372.2 476.5 362.8 476.7 374 476.9 363.8 477.1 370 477.3 365.2 477.5 371.2 477.7 364.7 477.9 373.7 478.1 363.1 478.3 370.8 478.5 366.7 478.7 373.9 478.9 366.7 479.1 369.6 479.3 363.4 479.5 370.7 479.7 365.8 479.9 370.3 480.1 364 480.3 369.8 480.5 365.2 480.7 370.4 480.9 363.7 481.1 369.1 481.3 361.3 481.5 373.5 481.7 361.3 481.9 372.1 482.1 366 482.3 369.6 482.5 365.9 482.7 369.8 482.9 365.9 483.1 370.2 483.3 366.7 483.5 370.8 483.7 366.5 483.9 369.5 484.1 362.4 484.3 370.5 484.5 366.4 484.7 372.8 484.9 361.3 485.1 371.2 485.3 364.9 485.5 373.1 485.7 365.9 485.9 371.5 486.1 362.9 486.3 369.1 486.5 362.3 486.7 370.2 486.9 366.1 487.1 370.8 487.3 366.8 487.5 371.1 487.7 366.1 487.9 371.8 488.1 365.9 488.3 371.7 488.5 361.3 488.7 373.5 488.9 365.6 489.1 371.8 489.3 366.8 489.5 371.9 489.7 364.1 489.9 372.7 490.1 365 490.3 370.4 490.5 363.9 490.7 370.7 490.9 364.8 491.1 369.1 491.3 366.6 491.5 372.3 491.7 366.5 491.9 371.7 492.1 363.4 492.3 369.1 492.5 364.2 492.7 369.1 492.9 363.3 493.1 372.8 493.3 365.2 493.5 373.3 493.7 364.8 493.9 370.3 494.1 366.5 494.3 371.1 494.5 366.8 494.7 371 494.9 361.2 495.1 373.5 495.3 366.4 495.5 371.2 495.7 363.7 495.9 370.5 496.1 365.6 496.3 369.5 496.5 366.5 496.7 374.8 496.9 363.1 497.1 369.4 497.3 366.6 497.5 369.5 497.7 362.9 497.9 373.5 498.1 365.6 498.3 370.9 498.5 366.1 498.7 369.9 498.9 362.4 499.1 369.4 499.3 363.7 499.5 370.2 499.7 363.4 499.9 370.8 500.1 366.6 500.3 370.7 500.5 366.2 500.7 372.7 500.9 366.4 501.1 372.8 501.3 366 501.5 372.7 501.7 365.4 501.9 373.5 502.1 364.1 502.3 374.6 502.5 365.8 502.7 374.2 502.9 366.5 503.1 369.7 503.3 362.8 503.5 371 503.7 366.3 503.9 372.3 504.1 364.5 504.3 369.1 504.5 363.1 504.7 372.6 504.9 365.8 505.1 370.9 505.3 366 505.5 370.5 505.7 362.9 505.9 370.9 506.1 365.3 506.3 370.2 506.5 364.2 506.7 372.6 506.9 365.2 507.1 369.3 507.3 362.2 507.5 370.7 507.7 362.8 507.9 372 508.1 366.4 508.3 372.9 508.5 365.6 508.7 371.1 508.9 362.2 509.1 372.1 509.3 365.2 509.5 371.7 509.7 366.6 509.9 371.3 510.1 366.8 510.3 374.9 510.5 365.9 510.7 373 510.9 362.4 511.1 373.9 511.3 366.1 511.5 369.2 511.7 366.4 511.9 369.8 512.1 366.2 512.3 371 512.5 361.1 512.7 371.5 512.9 362.3 513.1 370 513.3 365.4 513.5 370.3 513.7 366.9 513.9 371.4 514.1 364.7 514.3 370 514.5 364.8 514.7 369.8 514.9 365.6 515.1 369.1 515.3 366 515.5 372.3 515.7 365.1 515.9 369.7 516.1 364.1 516.3 373.2 516.5 365.2 516.7 374.2 516.9 364.6 517.1 370.1 517.3 364.8 517.5 372.7 517.7 365.7 517.9 373.1 518.1 365.8 518.3 374.9 518.5 365 518.7 370.9 518.9 366.5 519.1 369.4 519.3 363 519.5 371.2 519.7 364.1 519.9 369.2 520.1 363.8 520.3 371.6 520.5 366.4 520.7 370.5 520.9 366.1 521.1 369.1 521.3 365.5 521.5 372.4 521.7 366.3 521.9 369.3 522.1 364.1 522.3 372.2 522.5 364.7 522.7 370.3 522.9 365 523.1 371.2 523.3 365.4 523.5 370.3 523.7 365.2 523.9 373.1 524.1 365.7 524.3 371.1 524.5 362.8 524.7 370.6 524.9 364.6 525.1 370.9 525.3 365.2 525.5 370.2 525.7 365.6 525.9 370.1 526.1 366.2 526.3 369.8 526.5 364.4 526.7 369.8 526.9 364 527.1 374.8 527.3 366 527.5 370.6 527.7 361.7 527.9 374.7 528.1 363.6 528.3 372.3 528.5 365 528.7 371.5 528.9 365.8 529.1 370.9 529.3 363.4 529.5 373.8 529.7 366.7 529.9 371.7 530.1 365.6 530.3 374.5 530.5 366.4 530.7 370.2 530.9 365.7 531.1 370.1 531.3 365.1 531.5 371.3 531.7 365 531.9 372.1 532.1 366.1 532.3 369.4 532.5 364.5 532.7 371.6 532.9 366.2 533.1 369.2 533.3 363.4 533.5 372.3 533.7 361 533.9 371.3 534.1 365.7 534.3 369.6 534.5 363.6 534.7 370.6 534.9 362.9 535.1 369.8 535.3 366.4 535.5 370.1 535.7 364.7 535.9 370 536.1 364.8 536.3 369.6 536.5 366.5 536.7 373.8 536.9 366.2 537.1 369.8 537.3 365.8 537.5 369.2 537.7 365.8 537.9 371.2 538.1 364.4 538.3 370.5 538.5 362.1 538.7 372.6 538.9 366.8 539.1 369.6 539.3 366.4 539.5 370.3 539.7 364.4 539.9 369.7 540.1 365.7 540.3 372.3 540.5 365.5 540.7 369.7 540.9 366 541.1 374.7 541.3 364.4 541.5 372.4 541.7 366.9 541.9 369.5 542.1 363.5 542.3 370.6 542.5 366.7 542.7 370.7 542.9 364.9 543.1 369.4 543.3 366.3 543.5 369.4 543.7 365.9 543.9 369.3 544.1 364.4 544.3 369.9 544.5 363.3 544.7 370.8 544.9 366.7 545.1 369.2 545.3 366.8 545.5 369.6 545.7 366.7 545.9 373.2 546.1 365.9 546.3 373.4 546.5 365.6 546.7 372.1 546.9 366.2 547.1 370.8 547.3 365.6 547.5 370.7 547.7 365.6 547.9 370.2 548.1 365.4 548.3 369.9 548.5 365.8 548.7 371.2 548.9 366.8 549.1 369.8 549.3 366.8 549.5 369.2 549.7 363.7 549.9 370.3 550.1 364.9 550.3 371.9 550.5 366.8 550.7 369.4 550.9 363.4 551.1 371.1 551.3 366.5 551.5 371.8 551.7 364.8 551.9 371.3 552.1 366.6 552.3 369.4 552.5 364.3 552.7 369.5 552.9 362.9 553.1 372.2 553.3 366.8 553.5 371.7 553.7 365.5 553.9 371.6 554.1 365.7 554.3 371.5 554.5 366.8 554.7 370.2 554.9 366.2 555.1 370.3 555.3 363.5 555.5 369.6 555.7 366.9 555.9 371.9 556.1 364.4 556.3 369.8 556.5 365.9 556.7 370.3 556.9 366.5 557.1 371.3 557.3 366.8 557.5 369.9 557.7 365.5 557.9 369.6 558.1 365.8 558.3 371.9 558.5 366.2 558.7 369.9 558.9 365.6 559.1 371.1 559.3 366.3 559.5 373.3 559.7 365.7 559.9 370.4 560.1 365.1 560.3 369.1 560.5 363.6 560.7 369.4 560.9 366.2 561.1 369.5 561.3 363.6 561.5 369.9 561.7 366.3 561.9 369.1 562.1 365.7 562.3 369.9 562.5 364.2 562.7 369.6 562.9 366.3 563.1 371.2 563.3 364.5 563.5 369.5 563.7 366.6 563.9 372.4 564.1 364.9 564.3 370.1 564.5 365.9 564.7 372.4 564.9 365 565.1 370.8 565.3 364.3 565.5 370 565.7 363.7 565.9 370.3 566.1 366.8 566.3 371.2 566.5 362.7 566.7 370.2 566.9 366.7 567.1 369.4 567.3 363.6 567.5 369.2 567.7 366.1 567.9 372.3 568.1 362.7 568.3 371.2 568.5 365.5 568.7 371.9 568.9 365.3 569.1 371.3 569.3 363.9 569.5 369.2 569.7 364.6 569.9 371.3 570.1 366.6 570.3 371.7 570.5 366 570.7 369.7 570.9 364.4 571.1 370.6 571.3 366.3 571.5 372.3 571.7 364.5 571.9 369.4 572.1 366.5 572.3 371.3 572.5 365.3 572.7 371.5 572.9 366.3 573.1 369.6 573.3 363.6 573.5 370.5 573.7 364.4 573.9 370.4 574.1 366.4 574.3 369.4 574.5 365.1 574.7 369.3 574.9 364.4 575.1 369.4 575.3 366.3 575.5 369.8 575.7 363.7 575.9 370.9 576.1 364 576.3 370.6 576.5 366.3 576.7 370.7 576.9 366.5 577.1 369.7 577.3 365.7 577.5 371.2 577.7 366.7 577.9 369.5 578.1 366.8 578.3 371.2 578.5 365.3 578.7 369.8 578.9 366.7 579.1 371.3 579.3 366 579.5 369.5 579.7 365.6 579.9 370.3 580.1 365.1 580.3 370.8 580.5 365 580.7 369.8 580.9 365.5 581.1 370.3 581.3 366 581.5 369.1 581.7 365.6 581.9 371.7 582.1 365.1 582.3 369.8 582.5 364.6 582.7 373.2 582.9 363.9 583.1 369.6 583.3 365.1 583.5 369.4 583.7 364.2 583.9 369.9 584.1 366 584.3 371.4 584.5 365.3 584.7 372.4 584.9 364.1 585.1 369.9 585.3 364.7 585.5 370 585.7 365.5 585.9 370 586.1 366.6 586.3 370.2 586.5 365.7 586.7 373.1 586.9 366.6 587.1 371.5 587.3 364.6 587.5 373.1 587.7 365.4 587.9 371 588.1 365.8 588.3 369.4 588.5 366.6 588.7 370.8 588.9 365.9 589.1 369.5 589.3 366.1 589.5 370 589.7 366.4 589.9 370.5 590.1 361.6 590.3 371.8 590.5 365.3 590.7 373 590.9 364.3 591.1 374 591.3 366.7 591.5 371.6 591.7 364.1 591.9 369.9 592.1 365.4 592.3 371.9 592.5 365.3 592.7 370.9 592.9 360.5 593.1 377.9 593.3 362.5 593.5 375.9 593.7 362.4 593.9 373.7 594.1 363.3 594.3 369.6 594.5 365.8 594.7 371.6 594.9 365.6 595.1 373 595.3 365.2 595.5 370.2 595.7 363.7 595.9 372.8 596.1 366.6 596.3 370.6 596.5 366.2 596.7 372.9 596.9 366.7 597.1 370 597.3 363 597.5 370.9 597.7 362.5 597.9 374.7 598.1 365 598.3 370.9 598.5 366.3 598.7 370.2 598.9 362.7 599.1 374.7 599.3 360.6 599.5 379.1 599.7 360 599.9 378.2 600.1 360.2 600.3 376.1 600.5 361.4 600.7 381 600.9 356.9 601.1 380.2 601.3 358.1 601.5 378.1 601.7 360.1 601.9 382.1 602.1 360.4 602.3 379.3 602.5 351.4 602.7 383.1 602.9 355.6 603.1 382.7 603.3 355.8 603.5 382.9 603.7 339.4 603.9 389.9 604.1 351.8 604.3 382.3 604.5 350.3 604.7 380.7 604.9 358.9 605.1 378.6 605.3 356.5 605.5 377 605.7 360.9 605.9 374.2 606.1 362.2 606.3 372.9 606.5 364.4 606.7 372.7 606.9 365.7 607.1 371.5 607.3 366 607.5 370.4 607.7 363.5 607.9 370.9 608.1 362.3 608.3 369.2 608.5 366.8 608.7 370.2 608.9 362.7 609.1 372.8 609.3 364.1 609.5 370.6 609.7 366.6 609.9 372.2 610.1 360.4 610.3 372.7 610.5 364.6 610.7 372.3 610.9 364.1 611.1 375.9 611.3 356.5 611.5 377.2 611.7 355.2 611.9 375.1 612.1 360.7 612.3 374.1 612.5 360.4 612.7 373 612.9 363.7 613.1 374.7 613.3 362.5 613.5 375.7 613.7 362.5 613.9 370.2 614.1 362.7 614.3 369.1 614.5 364.3 614.7 371.5 614.9 360.5 615.1 371.3 615.3 360.3 615.5 372.8 615.7 364.5 615.9 369.6 616.1 360.3 616.3 369.5 616.5 364.4 616.7 370.7 616.9 365.8 617.1 369.3 617.3 362.8 617.5 369.9 617.7 365.3 617.9 373.2 618.1 364.4 618.3 369.7 618.5 365.4 618.7 375.7 618.9 366.2 619.1 371.6 619.3 363.9 619.5 369.3 619.7 366.3 619.9 372.9 620.1 363 620.3 369.3 620.5 364 620.7 375.8 620.9 366.5 621.1 370.3 621.3 366.4 621.5 374.1 621.7 360.9 621.9 377.7 622.1 357.8 622.3 376.3 622.5 355.5 622.7 376.9 622.9 357.7 623.1 376.3 623.3 360.6 623.5 378.2 623.7 356.8 623.9 374.7 624.1 359.6 624.3 375.6 624.5 361.5 624.7 371.3 624.9 364.3 625.1 371.2 625.3 366.1 625.5 370 625.7 364.1 625.9 375.8 626.1 366.6 626.3 370.9 626.5 365.1 626.7 370.2 626.9 366.8 627.1 369.8 627.3 361.9 627.5 372.4 627.7 363.9 627.9 371.8 628.1 364.1 628.3 371.3 628.5 365.5 628.7 372.9 628.9 365.7 629.1 373.3 629.3 360.9 629.5 370.6 629.7 364.3 629.9 370.4 630.1 361.8 630.3 370.6 630.5 365.3 630.7 370.3 630.9 363.8 631.1 370.9 631.3 364 631.5 370.5 631.7 363.6 631.9 371.2 632.1 365.7 632.3 373.5 632.5 364.1 632.7 372.2 632.9 365.1 633.1 369.1 633.3 364.2 633.5 370.2 633.7 365.1 633.9 369.9 634.1 366.5 634.3 369.3 634.5 364.4 634.7 371.7 634.9 361.3 635.1 371.7 635.3 360.7 635.5 370.5 635.7 365.4 635.9 370.6 636.1 363.3 636.3 372.2 636.5 361.6 636.7 369.5 636.9 366.5 637.1 372 637.3 366.4 637.5 369.4 637.7 366.8 637.9 370.1 638.1 365.5 638.3 370.7 638.5 365.3 638.7 369.9 638.9 365.1 639.1 370 639.3 365.6 639.5 371.2 639.7 366.1 639.9 369.3 640.1 360.1 640.3 370.3 640.5 361.7 640.7 374.6 640.9 360.1 641.1 373.6 641.3 365.9 641.5 369.2 641.7 365.9 641.9 372.7 642.1 365.9 642.3 376 642.5 360 642.7 370.1 642.9 364.7 643.1 373.6 643.3 366.5 643.5 371.3 643.7 366.4 643.9 374.7 644.1 365.4 644.3 369.4 644.5 362.1 644.7 376 644.9 365.8 645.1 370.8 645.3 361.5 645.5 372.8 645.7 366 645.9 376 646.1 365.7 646.3 370.8 646.5 364.1 646.7 370.3 646.9 365.3 647.1 370.8 647.3 364.6 647.5 372.3 647.7 365.9 647.9 376 648.1 366.8 648.3 370.6 648.5 363.5 648.7 371.5 648.9 365.9 649.1 369.5 649.3 364.2 649.5 372 649.7 365 649.9 370.6 650.1 366.1 650.3 372.1 650.5 364 650.7 369.2 650.9 363.5 651.1 371.6 651.3 366.8 651.5 369.1 651.7 365.6 651.9 372.7 652.1 364.8 652.3 371.9 652.5 361.5 652.7 370.4 652.9 365.7 653.1 375.3 653.3 361.3 653.5 372.7 653.7 362.3 653.9 369.9 654.1 362.7 654.3 371.3 654.5 365 654.7 371.4 654.9 361.6 655.1 370.3 655.3 366.5 655.5 373.8 655.7 364.7 655.9 369.2 656.1 366.2 656.3 373.7 656.5 363.3 656.7 369.8 656.9 364 657.1 374.7 657.3 364.6 657.5 373.5 657.7 363.9 657.9 370.1 658.1 363.3 658.3 373.6 658.5 365.5" stroke="#00f" stroke-width="0.5" stroke-linejoin="round" fill="none"/>
<path d="M245.7 360v11M247.7 360v12M254.8 360v11M261.8 358v17M267 358v13M292 355v17M293.7 364v19.6M298.5 358v14M307.8 365v10M338.3 360v11M341.6 360v11M343.8 365v10.6M346.2 343v29M350.6 359v12M357.4 336v57M409.7 344v27M413.6 365v14.7M454.7 360v12M457.6 322v58M459.4 334v59M482.3 349v25M489.4 341v43.4M491 348v25M493 356v16M495.3 358v14M509.2 358v19M512.2 357.4v15.6M520 357.4v21.1M522.4 362v17.7M525 359v14M531.7 358v15M533.4 358v17M538.5 360v15M552.4 364v14.5M558.8 361v11M584.2 360v15.5M602.4 324v78M651.4 357v17M654.4 362v16" stroke="#00f" stroke-width="1.1" stroke-opacity=".48" fill="none"/>
<path d="M184.5 604H658.5" stroke="#00f" stroke-width="7" fill="none"/>
<path d="M184.5 600.8 184.7 607.1 184.9 600.4 185.1 607.1 185.3 598.3 185.5 606.1 185.7 597.3 185.9 606.4 186.1 598.3 186.3 610.7 186.5 601.5 186.7 609.6 186.9 600 187.1 607.3 187.3 600.9 187.5 606.2 187.7 600.2 187.9 607.3 188.1 601.9 188.3 607 188.5 600 188.7 606.6 188.9 599 189.1 607.1 189.3 600.7 189.5 606.6 189.7 598.7 189.9 607.1 190.1 599.9 190.3 607.8 190.5 599.6 190.7 606.2 190.9 601.3 191.1 606.5 191.3 601.4 191.5 610 191.7 601.1 191.9 607.9 192.1 600.2 192.3 606.9 192.5 601.8 192.7 607.1 192.9 598.6 193.1 607.3 193.3 599.9 193.5 609.1 193.7 600 193.9 608.5 194.1 600.4 194.3 607.3 194.5 599.1 194.7 607.2 194.9 601.3 195.1 606.2 195.3 597.6 195.5 607.2 195.7 601.7 195.9 607.6 196.1 600.7 196.3 607.2 196.5 601.2 196.7 606.6 196.9 598.6 197.1 609.4 197.3 601.5 197.5 609 197.7 598.8 197.9 609.2 198.1 601.6 198.3 608.3 198.5 597.2 198.7 607 198.9 599.9 199.1 608.5 199.3 601.4 199.5 606.9 199.7 601.1 199.9 607.5 200.1 599.7 200.3 608.5 200.5 598.5 200.7 609.7 200.9 600.4 201.1 606.1 201.3 600.2 201.5 607.4 201.7 599.7 201.9 607.4 202.1 601.5 202.3 607.5 202.5 599.4 202.7 609.3 202.9 600.9 203.1 609.6 203.3 599.2 203.5 608 203.7 599.8 203.9 606.5 204.1 599.7 204.3 606.3 204.5 600.4 204.7 610.8 204.9 598.9 205.1 608 205.3 598.8 205.5 606.4 205.7 600.5 205.9 607.3 206.1 601.5 206.3 607.7 206.5 601.6 206.7 607 206.9 599.9 207.1 607.9 207.3 597.9 207.5 606.4 207.7 600.1 207.9 609.4 208.1 601.2 208.3 608.7 208.5 599.2 208.7 606.4 208.9 600.8 209.1 606.3 209.3 600.4 209.5 607.5 209.7 600.3 209.9 606.3 210.1 600.9 210.3 606.6 210.5 597.1 210.7 608.1 210.9 600.8 211.1 606.7 211.3 600.5 211.5 610.6 211.7 600.6 211.9 606.2 212.1 598.4 212.3 610.9 212.5 597.9 212.7 608.1 212.9 600.4 213.1 609.5 213.3 597.4 213.5 608 213.7 598.1 213.9 606.8 214.1 601.1 214.3 609.6 214.5 599.2 214.7 607.5 214.9 599.2 215.1 607.4 215.3 599.4 215.5 606.5 215.7 599.4 215.9 608.7 216.1 597.1 216.3 606.7 216.5 601.8 216.7 607.7 216.9 600.5 217.1 610.6 217.3 597 217.5 606.3 217.7 597.8 217.9 608 218.1 599.9 218.3 606.3 218.5 601.4 218.7 607.6 218.9 599.6 219.1 609.6 219.3 598.9 219.5 610.2 219.7 600.5 219.9 607.4 220.1 598.5 220.3 608.5 220.5 601.4 220.7 611 220.9 599.9 221.1 608.2 221.3 601.6 221.5 610.4 221.7 598.4 221.9 606.5 222.1 599.2 222.3 609.6 222.5 601.6 222.7 606.6 222.9 600.8 223.1 610.3 223.3 600.2 223.5 610.3 223.7 601.8 223.9 607.5 224.1 600 224.3 608.9 224.5 600.9 224.7 607.1 224.9 600.5 225.1 607 225.3 599.1 225.5 611 225.7 599.2 225.9 608.6 226.1 597 226.3 607.7 226.5 599.6 226.7 606.9 226.9 601.4 227.1 610.6 227.3 599.7 227.5 610.8 227.7 597.1 227.9 607.2 228.1 598.1 228.3 606.6 228.5 599.9 228.7 606.7 228.9 599.8 229.1 607.4 229.3 597.7 229.5 607.9 229.7 597.6 229.9 606.3 230.1 600.5 230.3 606.4 230.5 601.4 230.7 610.4 230.9 601.4 231.1 606.2 231.3 600.2 231.5 607.7 231.7 599.2 231.9 610 232.1 601.6 232.3 610 232.5 599.4 232.7 609.3 232.9 601.4 233.1 606.9 233.3 599.4 233.5 606.6 233.7 599 233.9 606.9 234.1 601 234.3 608.4 234.5 597.4 234.7 606.6 234.9 601.2 235.1 607.5 235.3 600.7 235.5 607.6 235.7 599.6 235.9 606.8 236.1 597.4 236.3 610.4 236.5 601.2 236.7 608.3 236.9 601.8 237.1 608.9 237.3 599.2 237.5 606.9 237.7 599.5 237.9 608.9 238.1 600.9 238.3 607.2 238.5 599.6 238.7 607.2 238.9 600.1 239.1 609.9 239.3 601.3 239.5 608.3 239.7 601.7 239.9 611.2 240.1 599.3 240.3 606.3 240.5 597.8 240.7 607 240.9 600.1 241.1 608.3 241.3 600.3 241.5 607.8 241.7 599.8 241.9 607.3 242.1 599.3 242.3 606.9 242.5 598.9 242.7 606.5 242.9 601.1 243.1 607.4 243.3 600.6 243.5 608.8 243.7 599.5 243.9 607.6 244.1 598.8 244.3 608.1 244.5 601.3 244.7 606.5 244.9 600 245.1 606.2 245.3 599.5 245.5 607.5 245.7 601.5 245.9 611.2 246.1 601.7 246.3 609.5 246.5 600.7 246.7 606.2 246.9 601.7 247.1 607.7 247.3 599.5 247.5 608.3 247.7 601.4 247.9 611 248.1 596.8 248.3 608 248.5 599.2 248.7 606.5 248.9 600.5 249.1 609 249.3 599.9 249.5 608.7 249.7 599.4 249.9 607.1 250.1 599.1 250.3 609.1 250.5 600.1 250.7 606.8 250.9 600.3 251.1 606.9 251.3 599.2 251.5 607.5 251.7 597.8 251.9 608.7 252.1 600.5 252.3 609.2 252.5 599.9 252.7 606.2 252.9 600.5 253.1 608.4 253.3 600.3 253.5 608.8 253.7 597.5 253.9 606.6 254.1 598.7 254.3 607 254.5 597.2 254.7 608.8 254.9 601.1 255.1 607.5 255.3 598.8 255.5 608.3 255.7 599.3 255.9 609.3 256.1 598.5 256.3 607.9 256.5 598.4 256.7 606.2 256.9 597.3 257.1 608.6 257.3 599.4 257.5 606.4 257.7 601.1 257.9 609.7 258.1 599.4 258.3 607.8 258.5 601.2 258.7 609.7 258.9 600.9 259.1 607.9 259.3 601.9 259.5 608.1 259.7 597.3 259.9 608.1 260.1 599.6 260.3 608.9 260.5 601.7 260.7 608.6 260.9 598.6 261.1 607.7 261.3 600.8 261.5 610.2 261.7 597.3 261.9 608.6 262.1 596.8 262.3 608.3 262.5 601.7 262.7 607.4 262.9 600.2 263.1 607.7 263.3 600.4 263.5 609.2 263.7 598.8 263.9 606.8 264.1 598.4 264.3 606.4 264.5 601.2 264.7 610.1 264.9 600.6 265.1 610.7 265.3 598.3 265.5 606.8 265.7 601.1 265.9 606.8 266.1 598.2 266.3 607.2 266.5 601.3 266.7 611.4 266.9 601.2 267.1 609 267.3 596.6 267.5 607.4 267.7 600.8 267.9 607.7 268.1 600.3 268.3 607.9 268.5 601.2 268.7 607.2 268.9 599.5 269.1 607.5 269.3 600.2 269.5 607 269.7 600.8 269.9 606.6 270.1 601.6 270.3 607 270.5 599.7 270.7 606.5 270.9 599.3 271.1 606.9 271.3 601.6 271.5 606.6 271.7 601.2 271.9 611.5 272.1 601.4 272.3 606.6 272.5 601.8 272.7 608.5 272.9 599.4 273.1 606.5 273.3 600.9 273.5 608.8 273.7 600.3 273.9 606.4 274.1 598.5 274.3 606.5 274.5 598.1 274.7 608 274.9 600.2 275.1 606.6 275.3 600.7 275.5 606.6 275.7 601 275.9 608.6 276.1 600.4 276.3 607 276.5 600.5 276.7 607.8 276.9 598.5 277.1 607.1 277.3 600 277.5 608.1 277.7 599.7 277.9 608.5 278.1 601.3 278.3 611.2 278.5 600.7 278.7 606.6 278.9 598.2 279.1 607.1 279.3 597.5 279.5 610.5 279.7 596.7 279.9 606.3 280.1 599.5 280.3 607.2 280.5 600.3 280.7 610.8 280.9 596.7 281.1 606.3 281.3 601.7 281.5 608.8 281.7 601.1 281.9 609.1 282.1 597.6 282.3 609.7 282.5 598.8 282.7 610.7 282.9 601.5 283.1 610.6 283.3 598.9 283.5 606.8 283.7 600.9 283.9 609 284.1 599.4 284.3 608.3 284.5 597.8 284.7 607.9 284.9 600.7 285.1 607.9 285.3 601.3 285.5 607.9 285.7 600.6 285.9 608.6 286.1 597.4 286.3 606.2 286.5 599.9 286.7 606.3 286.9 601 287.1 609.2 287.3 598.2 287.5 606.3 287.7 598.5 287.9 606.9 288.1 599.7 288.3 607.4 288.5 599.6 288.7 606.2 288.9 600.6 289.1 606.2 289.3 601.6 289.5 610.4 289.7 601.7 289.9 608.6 290.1 600.7 290.3 607.2 290.5 601.4 290.7 609.5 290.9 597.3 291.1 607.1 291.3 599.8 291.5 611.4 291.7 599.2 291.9 609.1 292.1 600.3 292.3 606.9 292.5 596.3 292.7 608.6 292.9 599.5 293.1 606.3 293.3 601.2 293.5 608 293.7 601.4 293.9 609.9 294.1 599.1 294.3 609.2 294.5 601.2 294.7 606.8 294.9 598.3 295.1 606.5 295.3 599.4 295.5 608.4 295.7 599.2 295.9 606.2 296.1 596.5 296.3 608.5 296.5 598.3 296.7 608.7 296.9 596.5 297.1 607.3 297.3 601.5 297.5 609.3 297.7 601.2 297.9 608.3 298.1 598.1 298.3 606.6 298.5 599 298.7 607.5 298.9 598.6 299.1 607.7 299.3 600.7 299.5 611.8 299.7 596.9 299.9 606.7 300.1 601.6 300.3 611.7 300.5 598.7 300.7 607.1 300.9 596.2 301.1 608.7 301.3 598.8 301.5 607.4 301.7 599.9 301.9 608.4 302.1 601.5 302.3 609 302.5 601.8 302.7 607.2 302.9 601.5 303.1 606.6 303.3 601.3 303.5 607.1 303.7 599.9 303.9 607.4 304.1 601.4 304.3 609.5 304.5 600.8 304.7 610.3 304.9 599.9 305.1 611.8 305.3 601 305.5 606.3 305.7 598.8 305.9 608.9 306.1 601.6 306.3 610 306.5 599.8 306.7 608.6 306.9 601.4 307.1 609.5 307.3 598.8 307.5 610.4 307.7 601.8 307.9 609.6 308.1 596.8 308.3 608.4 308.5 596.5 308.7 606.8 308.9 599.4 309.1 607.4 309.3 596.2 309.5 610.1 309.7 598.9 309.9 607.7 310.1 601.3 310.3 609.8 310.5 597.9 310.7 606.6 310.9 601.7 311.1 608.8 311.3 597.5 311.5 606.3 311.7 599.9 311.9 610.1 312.1 597.4 312.3 606.9 312.5 600 312.7 607.6 312.9 600.7 313.1 606.7 313.3 598.4 313.5 609.5 313.7 600.8 313.9 607.6 314.1 601.4 314.3 610.1 314.5 598.6 314.7 606.7 314.9 599.8 315.1 611.2 315.3 601.5 315.5 606.2 315.7 601.6 315.9 606.3 316.1 597.1 316.3 609.3 316.5 601.9 316.7 606.3 316.9 599.9 317.1 606.9 317.3 599.1 317.5 609.9 317.7 600.6 317.9 606.6 318.1 601.8 318.3 610.6 318.5 600 318.7 608 318.9 599.3 319.1 607.3 319.3 599.6 319.5 609.4 319.7 599 319.9 610.1 320.1 598.4 320.3 610.1 320.5 601.1 320.7 607.7 320.9 598.8 321.1 607 321.3 597.1 321.5 610.8 321.7 599.6 321.9 609.7 322.1 595.2 322.3 609 322.5 597 322.7 606.7 322.9 598.6 323.1 609.7 323.3 598.1 323.5 606.9 323.7 601.5 323.9 608.1 324.1 599.2 324.3 610.1 324.5 601.8 324.7 611.9 324.9 598.3 325.1 608.7 325.3 600.2 325.5 611 325.7 596.3 325.9 608.7 326.1 601 326.3 609.5 326.5 601 326.7 606.6 326.9 601.8 327.1 606.7 327.3 598.8 327.5 607.7 327.7 601.1 327.9 606.8 328.1 600.3 328.3 606.2 328.5 600.3 328.7 609 328.9 601.8 329.1 611 329.3 601.5 329.5 606.6 329.7 598.2 329.9 610.1 330.1 599.7 330.3 613.6 330.5 601.8 330.7 612.3 330.9 599.5 331.1 609.7 331.3 601.2 331.5 609.7 331.7 599.5 331.9 607.5 332.1 594.9 332.3 609.7 332.5 595.6 332.7 608.1 332.9 598.6 333.1 606.8 333.3 600.9 333.5 611.3 333.7 594.3 333.9 613.7 334.1 596 334.3 609.9 334.5 600.9 334.7 611.7 334.9 595.9 335.1 607.1 335.3 596.7 335.5 607.6 335.7 599.4 335.9 608.9 336.1 601.6 336.3 611.7 336.5 595.7 336.7 606.2 336.9 600.1 337.1 606.3 337.3 595.9 337.5 607 337.7 599.8 337.9 609.6 338.1 601.6 338.3 606.6 338.5 599.7 338.7 608.7 338.9 598.2 339.1 610.4 339.3 599.2 339.5 607.4 339.7 599.8 339.9 609.3 340.1 594.2 340.3 613.7 340.5 600.8 340.7 611.7 340.9 598.8 341.1 613.6 341.3 600.8 341.5 607.8 341.7 601.5 341.9 606.7 342.1 598.2 342.3 606.6 342.5 597.4 342.7 608.6 342.9 601.7 343.1 607.4 343.3 597.3 343.5 606.9 343.7 597.1 343.9 607.1 344.1 598.7 344.3 607.4 344.5 600.4 344.7 608.8 344.9 601 345.1 608.3 345.3 594.9 345.5 608.9 345.7 599.1 345.9 608 346.1 596.7 346.3 611.8 346.5 594.2 346.7 611.1 346.9 598.4 347.1 610.5 347.3 595.3 347.5 612.1 347.7 598.9 347.9 611.4 348.1 601.3 348.3 606.9 348.5 600.3 348.7 608.5 348.9 600.1 349.1 607.6 349.3 599.9 349.5 609.6 349.7 599 349.9 607 350.1 599.5 350.3 612.2 350.5 600.7 350.7 614 350.9 600.6 351.1 608.3 351.3 599.6 351.5 608.5 351.7 600.2 351.9 612.2 352.1 597.2 352.3 606.3 352.5 599.7 352.7 608.5 352.9 600.8 353.1 610.1 353.3 596.4 353.5 608.3 353.7 594.3 353.9 610.8 354.1 601.8 354.3 608.4 354.5 597.9 354.7 610.7 354.9 601.2 355.1 610.2 355.3 601.4 355.5 609.2 355.7 596.5 355.9 607.9 356.1 600.6 356.3 610.1 356.5 598.6 356.7 608 356.9 598.5 357.1 607.2 357.3 599.2 357.5 607 357.7 597.8 357.9 606.5 358.1 596 358.3 608 358.5 600.7 358.7 607.7 358.9 600.9 359.1 609.8 359.3 600.6 359.5 607 359.7 595.5 359.9 611 360.1 601.3 360.3 610 360.5 599.6 360.7 607.4 360.9 601.3 361.1 607.2 361.3 599.8 361.5 608.2 361.7 600.9 361.9 606.7 362.1 596.9 362.3 611.6 362.5 599.8 362.7 606.8 362.9 599.2 363.1 607 363.3 600 363.5 606.3 363.7 601.7 363.9 612.5 364.1 596.6 364.3 611.7 364.5 600.4 364.7 609.6 364.9 597.3 365.1 606.7 365.3 601.1 365.5 607 365.7 596.6 365.9 607.8 366.1 601.5 366.3 606.9 366.5 601.5 366.7 606.9 366.9 600 367.1 606.3 367.3 601.2 367.5 608.2 367.7 598.3 367.9 609.3 368.1 599.2 368.3 608.5 368.5 601.1 368.7 606.4 368.9 600.5 369.1 606.9 369.3 600.8 369.5 608.4 369.7 598.4 369.9 610.9 370.1 599.7 370.3 608.8 370.5 601.5 370.7 608 370.9 601 371.1 606.1 371.3 595.5 371.5 606.8 371.7 599.5 371.9 607.2 372.1 599.5 372.3 608.8 372.5 597.6 372.7 606.2 372.9 600.4 373.1 612.3 373.3 595.5 373.5 607.2 373.7 600.2 373.9 610.4 374.1 601.3 374.3 608 374.5 600 374.7 611.6 374.9 601.3 375.1 606.3 375.3 601.8 375.5 607.7 375.7 600.9 375.9 612.5 376.1 599.8 376.3 611.4 376.5 601.3 376.7 611.5 376.9 599 377.1 608.7 377.3 599.9 377.5 610.5 377.7 600.7 377.9 610.5 378.1 600.8 378.3 608.1 378.5 601.6 378.7 607.8 378.9 600.6 379.1 606.9 379.3 600.3 379.5 607 379.7 596.5 379.9 612.5 380.1 598.5 380.3 607.3 380.5 599.5 380.7 606.6 380.9 598.5 381.1 608.8 381.3 600.8 381.5 607.8 381.7 598.6 381.9 610.3 382.1 600.3 382.3 608.4 382.5 600.8 382.7 608.6 382.9 597.7 383.1 607.4 383.3 600.6 383.5 607.6 383.7 599.9 383.9 608.1 384.1 600.8 384.3 608 384.5 600.8 384.7 606.9 384.9 599.2 385.1 609.5 385.3 598.6 385.5 606.5 385.7 600.2 385.9 607.9 386.1 601.7 386.3 606.4 386.5 597.3 386.7 606.8 386.9 598 387.1 613.5 387.3 600.1 387.5 606.6 387.7 601.9 387.9 606.9 388.1 599.1 388.3 612.2 388.5 601.4 388.7 606.7 388.9 595.8 389.1 608.7 389.3 600.3 389.5 608.4 389.7 596.1 389.9 608.9 390.1 596.1 390.3 610.7 390.5 598.8 390.7 606.4 390.9 601.3 391.1 608.4 391.3 600.8 391.5 606.1 391.7 599.5 391.9 606.6 392.1 600.5 392.3 609.1 392.5 598 392.7 608.3 392.9 595.9 393.1 606.2 393.3 598.3 393.5 607.6 393.7 599 393.9 611.7 394.1 599.2 394.3 609 394.5 598 394.7 606.4 394.9 601.8 395.1 608.2 395.3 598.7 395.5 610 395.7 601.3 395.9 613.5 396.1 596.8 396.3 606.4 396.5 601.4 396.7 608.9 396.9 600.9 397.1 613 397.3 597.5 397.5 607.3 397.7 600.4 397.9 608.3 398.1 599.8 398.3 606.7 398.5 596.9 398.7 606.9 398.9 600.2 399.1 608.3 399.3 600.1 399.5 609.3 399.7 600.5 399.9 608.4 400.1 596.5 400.3 606.5 400.5 600.2 400.7 607.4 400.9 597.7 401.1 606.9 401.3 599.6 401.5 610.7 401.7 594.5 401.9 609.7 402.1 597.2 402.3 607.5 402.5 598.3 402.7 608.3 402.9 601.5 403.1 608.9 403.3 597.1 403.5 608.6 403.7 600.3 403.9 608.4 404.1 600.6 404.3 613.4 404.5 596.8 404.7 607.9 404.9 601.7 405.1 613.4 405.3 601.1 405.5 610.2 405.7 599.1 405.9 608.5 406.1 599.5 406.3 606.5 406.5 601.6 406.7 607.8 406.9 601 407.1 609.1 407.3 599.9 407.5 606.5 407.7 598.2 407.9 608.2 408.1 597.6 408.3 607.4 408.5 599.2 408.7 607.4 408.9 596.7 409.1 613.3 409.3 599.2 409.5 607.2 409.7 600.5 409.9 608.7 410.1 600.3 410.3 608.7 410.5 600.8 410.7 609.1 410.9 601.8 411.1 607.1 411.3 601.2 411.5 608.9 411.7 601 411.9 612.7 412.1 597.7 412.3 606.9 412.5 596 412.7 608.8 412.9 601.8 413.1 606.7 413.3 600.4 413.5 612.4 413.7 599.8 413.9 606.4 414.1 599.6 414.3 606.3 414.5 599.7 414.7 610.8 414.9 596.6 415.1 606.5 415.3 601.2 415.5 606.2 415.7 600.8 415.9 611 416.1 600.3 416.3 606.5 416.5 599.4 416.7 610.5 416.9 594.8 417.1 607.4 417.3 600.6 417.5 609.1 417.7 600.8 417.9 610.2 418.1 601.1 418.3 606.9 418.5 600.5 418.7 607.4 418.9 599.3 419.1 611.3 419.3 599 419.5 610 419.7 595.7 419.9 607 420.1 601.2 420.3 609.2 420.5 594.9 420.7 607.3 420.9 601 421.1 606.5 421.3 594.9 421.5 611.9 421.7 599.8 421.9 606.9 422.1 599.9 422.3 606.3 422.5 599.9 422.7 608.4 422.9 601.1 423.1 612.9 423.3 594.9 423.5 606.1 423.7 600.2 423.9 610.9 424.1 600 424.3 609.3 424.5 599 424.7 606.1 424.9 601.4 425.1 608.4 425.3 600.1 425.5 611.4 425.7 601 425.9 607 426.1 597.6 426.3 610.2 426.5 599.5 426.7 606.7 426.9 599.1 427.1 610.9 427.3 600.7 427.5 607.4 427.7 601.6 427.9 607.2 428.1 600.8 428.3 609 428.5 601.3 428.7 608 428.9 600.2 429.1 608.1 429.3 597.9 429.5 607.7 429.7 599.9 429.9 606.7 430.1 601.7 430.3 607.1 430.5 599.7 430.7 610.6 430.9 596.5 431.1 609.2 431.3 600.2 431.5 607.6 431.7 600.6 431.9 610.6 432.1 598.2 432.3 606.6 432.5 597.4 432.7 611 432.9 601.1 433.1 612.9 433.3 599.8 433.5 608.6 433.7 599.1 433.9 610.7 434.1 600 434.3 610.4 434.5 598.7 434.7 606.3 434.9 597.5 435.1 607.8 435.3 601.3 435.5 609.2 435.7 600.4 435.9 607.5 436.1 599.9 436.3 608.1 436.5 601.7 436.7 607 436.9 601.8 437.1 608 437.3 597.9 437.5 610.5 437.7 601 437.9 607.2 438.1 601.4 438.3 608.2 438.5 596.2 438.7 606.9 438.9 601.5 439.1 606.2 439.3 598.6 439.5 607.4 439.7 596.2 439.9 608.1 440.1 601 440.3 607.6 440.5 598.4 440.7 606.8 440.9 600.1 441.1 606.4 441.3 601.8 441.5 608.2 441.7 601.1 441.9 610.2 442.1 601.8 442.3 608.7 442.5 600.9 442.7 606.9 442.9 598.8 443.1 608 443.3 600.2 443.5 606.6 443.7 601.4 443.9 606.2 444.1 601.7 444.3 607.1 444.5 600.9 444.7 610 444.9 596.6 445.1 607.6 445.3 596.9 445.5 608.4 445.7 599.2 445.9 607.3 446.1 601.3 446.3 610.1 446.5 600.4 446.7 606.9 446.9 601 447.1 607 447.3 597.1 447.5 607.8 447.7 597.3 447.9 607.2 448.1 600.3 448.3 610.7 448.5 599 448.7 606.2 448.9 601 449.1 608.7 449.3 601.5 449.5 607.1 449.7 601.5 449.9 613.5 450.1 596.2 450.3 606.8 450.5 599.1 450.7 606.3 450.9 599.3 451.1 609.4 451.3 600.4 451.5 610.1 451.7 598.4 451.9 606.6 452.1 598.9 452.3 608.8 452.5 594.5 452.7 607.6 452.9 596.7 453.1 611.5 453.3 599.1 453.5 607.1 453.7 600.9 453.9 607.6 454.1 601 454.3 607 454.5 599.6 454.7 611.5 454.9 599.9 455.1 607.1 455.3 599.1 455.5 610.8 455.7 598.2 455.9 607.2 456.1 600.5 456.3 609.9 456.5 594.5 456.7 608.8 456.9 598.9 457.1 609.4 457.3 595 457.5 609.4 457.7 599.7 457.9 609 458.1 599.8 458.3 608.4 458.5 599.2 458.7 610.6 458.9 598.8 459.1 609.1 459.3 601.7 459.5 606.4 459.7 596.5 459.9 606.8 460.1 601.1 460.3 612.6 460.5 600.7 460.7 613.6 460.9 597 461.1 607.1 461.3 600.9 461.5 608.2 461.7 601 461.9 608.4 462.1 594.5 462.3 607.7 462.5 597 462.7 612.8 462.9 601.4 463.1 607 463.3 594.4 463.5 608.4 463.7 595.7 463.9 606.1 464.1 599.9 464.3 608.4 464.5 594.8 464.7 606.8 464.9 598.6 465.1 607.6 465.3 601.6 465.5 606.6 465.7 597.4 465.9 607.9 466.1 596.5 466.3 606.9 466.5 600.5 466.7 607.8 466.9 594.8 467.1 606.7 467.3 597.6 467.5 607 467.7 601.5 467.9 608.1 468.1 601.7 468.3 609.1 468.5 594.4 468.7 607.6 468.9 601.6 469.1 608.6 469.3 601.4 469.5 613.6 469.7 601.6 469.9 609.1 470.1 600.8 470.3 606.7 470.5 598.1 470.7 608.6 470.9 601.8 471.1 608.7 471.3 600.5 471.5 609.9 471.7 597.1 471.9 608.1 472.1 601.5 472.3 613.6 472.5 600.2 472.7 606.4 472.9 601.9 473.1 606.9 473.3 599.9 473.5 608 473.7 600.5 473.9 607.6 474.1 601.2 474.3 612.6 474.5 600.9 474.7 610.2 474.9 596.3 475.1 607.9 475.3 600.7 475.5 606.9 475.7 599.6 475.9 606.7 476.1 594.4 476.3 607.9 476.5 600.9 476.7 609.1 476.9 597.3 477.1 608.7 477.3 600.7 477.5 609.5 477.7 594.4 477.9 606.2 478.1 594.7 478.3 608.4 478.5 594.4 478.7 608.9 478.9 597.9 479.1 609.4 479.3 599.4 479.5 606.5 479.7 600 479.9 608.7 480.1 594.4 480.3 607.2 480.5 597 480.7 608.1 480.9 599.4 481.1 607.2 481.3 598.4 481.5 606.4 481.7 598.2 481.9 606.7 482.1 599.8 482.3 607.3 482.5 600.6 482.7 606.7 482.9 597.8 483.1 607.7 483.3 600.9 483.5 610.5 483.7 598.9 483.9 608 484.1 600.5 484.3 609.8 484.5 596.5 484.7 609 484.9 601.1 485.1 608.1 485.3 599.1 485.5 613.6 485.7 601.5 485.9 607.1 486.1 601.9 486.3 606.3 486.5 598.1 486.7 612.5 486.9 599.8 487.1 611 487.3 596.3 487.5 607.6 487.7 595.7 487.9 608 488.1 599.6 488.3 609.5 488.5 601 488.7 607.1 488.9 594.5 489.1 609.1 489.3 596.9 489.5 609.2 489.7 600.4 489.9 613.5 490.1 596.9 490.3 607.2 490.5 598.6 490.7 608.4 490.9 597.4 491.1 607.9 491.3 598.5 491.5 611.6 491.7 598.2 491.9 607.2 492.1 596.3 492.3 606.6 492.5 598.5 492.7 611.8 492.9 601.2 493.1 608.7 493.3 600.1 493.5 606.1 493.7 598.2 493.9 608.3 494.1 598.3 494.3 608 494.5 601.8 494.7 610 494.9 599.5 495.1 608.5 495.3 599.1 495.5 606.4 495.7 598.7 495.9 609.6 496.1 600.5 496.3 607.5 496.5 600.4 496.7 611.7 496.9 599.4 497.1 606.4 497.3 601.3 497.5 613.7 497.7 596.3 497.9 609.2 498.1 596.6 498.3 606.1 498.5 601.7 498.7 613.7 498.9 601.7 499.1 606.3 499.3 596.8 499.5 607.1 499.7 601.4 499.9 610.2 500.1 599.9 500.3 612 500.5 600.7 500.7 607 500.9 599.4 501.1 608.2 501.3 599.3 501.5 611.1 501.7 598.5 501.9 609.7 502.1 600.2 502.3 606.7 502.5 596.6 502.7 607.7 502.9 594.6 503.1 608.8 503.3 597.8 503.5 611.4 503.7 601.6 503.9 608.3 504.1 601 504.3 608.1 504.5 598.6 504.7 613.7 504.9 597.1 505.1 608.5 505.3 597.6 505.5 606.7 505.7 599.2 505.9 607.2 506.1 600.1 506.3 606.3 506.5 599.3 506.7 612.7 506.9 599.5 507.1 606.5 507.3 599.3 507.5 606.6 507.7 601.3 507.9 606.6 508.1 601.2 508.3 607.3 508.5 601.5 508.7 607.7 508.9 601.1 509.1 608.5 509.3 601 509.5 606.4 509.7 598.9 509.9 607.4 510.1 599.9 510.3 607.4 510.5 599.8 510.7 613.1 510.9 598 511.1 607.7 511.3 598.9 511.5 606.4 511.7 599.8 511.9 609.8 512.1 601.4 512.3 606.2 512.5 601.1 512.7 609.5 512.9 601.6 513.1 611.8 513.3 597.6 513.5 608.6 513.7 597.1 513.9 609.2 514.1 597.7 514.3 608 514.5 600.3 514.7 610.4 514.9 595.8 515.1 609.3 515.3 600.9 515.5 606.3 515.7 601.7 515.9 610.4 516.1 598.3 516.3 607.3 516.5 594.3 516.7 607.5 516.9 596.3 517.1 608.8 517.3 598.3 517.5 607.4 517.7 601.2 517.9 613.7 518.1 596.4 518.3 607.6 518.5 597.6 518.7 607.8 518.9 601.2 519.1 609 519.3 601.6 519.5 613.7 519.7 599.4 519.9 606.5 520.1 600 520.3 612.5 520.5 600.4 520.7 608.8 520.9 597.6 521.1 609.5 521.3 601.8 521.5 611.3 521.7 600.8 521.9 610.9 522.1 595.5 522.3 607.3 522.5 600.4 522.7 607.7 522.9 594.3 523.1 613.1 523.3 595.3 523.5 607.1 523.7 600.7 523.9 607.9 524.1 597.1 524.3 610.9 524.5 599.4 524.7 613.7 524.9 598.8 525.1 613.6 525.3 600.6 525.5 607.1 525.7 598.7 525.9 611.9 526.1 600.3 526.3 609.1 526.5 600.2 526.7 612.8 526.9 598.9 527.1 608.3 527.3 597.9 527.5 613.7 527.7 599.6 527.9 608.5 528.1 601.8 528.3 608.4 528.5 597.5 528.7 609.8 528.9 600.9 529.1 612 529.3 598.1 529.5 609 529.7 598.2 529.9 606.7 530.1 597.4 530.3 606.5 530.5 597.9 530.7 612.6 530.9 596.7 531.1 607 531.3 598.1 531.5 612.2 531.7 594.3 531.9 610.9 532.1 600.4 532.3 606.6 532.5 600.8 532.7 606.5 532.9 600 533.1 609.9 533.3 599.6 533.5 608.4 533.7 600.5 533.9 607 534.1 600.3 534.3 611.8 534.5 601.7 534.7 607.9 534.9 595.7 535.1 613.8 535.3 595 535.5 609.1 535.7 601.8 535.9 606.5 536.1 599.2 536.3 610.1 536.5 595.1 536.7 607.5 536.9 596.9 537.1 607.1 537.3 596.4 537.5 608.8 537.7 598.3 537.9 608.3 538.1 600.4 538.3 613.8 538.5 600.1 538.7 612.2 538.9 600.3 539.1 611.1 539.3 597.8 539.5 607.2 539.7 598.6 539.9 608.3 540.1 597.4 540.3 610.3 540.5 596 540.7 613.6 540.9 596.2 541.1 608.9 541.3 598.7 541.5 608.7 541.7 595.8 541.9 606.2 542.1 600 542.3 607.3 542.5 595.2 542.7 606.5 542.9 598.9 543.1 606.5 543.3 599.3 543.5 608 543.7 598.5 543.9 609.1 544.1 599.5 544.3 612.4 544.5 599.5 544.7 608.8 544.9 595.5 545.1 608.8 545.3 595.5 545.5 606.8 545.7 601.2 545.9 606.2 546.1 601.7 546.3 607.6 546.5 597.6 546.7 606.2 546.9 598.4 547.1 608 547.3 600.9 547.5 608.7 547.7 598.9 547.9 606.8 548.1 600.6 548.3 608 548.5 597.9 548.7 607.7 548.9 596.6 549.1 607.5 549.3 599.3 549.5 610.5 549.7 598.8 549.9 608.3 550.1 601.4 550.3 607.1 550.5 600.8 550.7 606.7 550.9 597.8 551.1 610.4 551.3 599.4 551.5 612.3 551.7 600.2 551.9 606.3 552.1 597.8 552.3 607.5 552.5 600.2 552.7 612.3 552.9 601.1 553.1 607.9 553.3 601 553.5 606.1 553.7 599.1 553.9 606.7 554.1 599.9 554.3 606.4 554.5 595.5 554.7 606.4 554.9 595.5 555.1 612.5 555.3 601.8 555.5 606.9 555.7 600.3 555.9 607.3 556.1 601.1 556.3 610.9 556.5 601.2 556.7 608.8 556.9 599.2 557.1 606.2 557.3 601.4 557.5 607.5 557.7 599.4 557.9 607.9 558.1 595.7 558.3 609.6 558.5 601.8 558.7 609 558.9 596.8 559.1 608.3 559.3 601.4 559.5 607.2 559.7 597.3 559.9 611 560.1 598.9 560.3 607.8 560.5 600.9 560.7 606.7 560.9 597.7 561.1 609 561.3 601.8 561.5 611.9 561.7 600 561.9 609 562.1 601 562.3 609.9 562.5 601.9 562.7 609.9 562.9 601.9 563.1 606.6 563.3 597.8 563.5 609.6 563.7 598.5 563.9 607.3 564.1 600.6 564.3 608.1 564.5 600.7 564.7 609 564.9 601.9 565.1 611 565.3 597.9 565.5 607.1 565.7 601.7 565.9 612.5 566.1 598.4 566.3 610.3 566.5 599.2 566.7 609 566.9 601 567.1 609.7 567.3 601.7 567.5 608.5 567.7 601.3 567.9 608.7 568.1 600.2 568.3 606.3 568.5 596.7 568.7 609.7 568.9 600 569.1 606.5 569.3 597.6 569.5 607.3 569.7 600.1 569.9 610.4 570.1 601.1 570.3 610.2 570.5 599.7 570.7 609.2 570.9 601.8 571.1 606.4 571.3 595.5 571.5 606.5 571.7 596.9 571.9 607.2 572.1 601.3 572.3 606.7 572.5 595.5 572.7 608.8 572.9 600.4 573.1 608.2 573.3 598.2 573.5 608.6 573.7 596.5 573.9 608.5 574.1 598.9 574.3 607.8 574.5 599.3 574.7 606.6 574.9 600.9 575.1 607.4 575.3 599.1 575.5 606.3 575.7 598 575.9 607.6 576.1 600.3 576.3 610 576.5 596.1 576.7 608.2 576.9 597 577.1 609.9 577.3 598.5 577.5 610.2 577.7 601.9 577.9 608.1 578.1 600.9 578.3 606.5 578.5 601.8 578.7 611.4 578.9 601.1 579.1 609.3 579.3 598.1 579.5 608.5 579.7 601.6 579.9 607.1 580.1 597.2 580.3 610.2 580.5 599 580.7 612.1 580.9 601.8 581.1 606.6 581.3 597.5 581.5 608.7 581.7 599.8 581.9 611.7 582.1 600.7 582.3 606.6 582.5 600.8 582.7 608.6 582.9 601.7 583.1 606.3 583.3 600.8 583.5 609.3 583.7 597.9 583.9 606.2 584.1 601.7 584.3 606.2 584.5 599.5 584.7 608.2 584.9 600.8 585.1 612.5 585.3 597.8 585.5 608.9 585.7 601.5 585.9 608.2 586.1 595.5 586.3 606.8 586.5 599.7 586.7 606.5 586.9 600.2 587.1 608 587.3 600.3 587.5 608 587.7 598.9 587.9 606.2 588.1 600.6 588.3 606.4 588.5 601.2 588.7 607.1 588.9 600.8 589.1 608.1 589.3 601.8 589.5 607 589.7 597.3 589.9 612.1 590.1 600.1 590.3 608.2 590.5 601.8 590.7 608.4 590.9 601.5 591.1 612.8 591.3 601.3 591.5 606.8 591.7 600.8 591.9 611.8 592.1 600.7 592.3 610.3 592.5 598 592.7 609.3 592.9 598.5 593.1 608 593.3 601.7 593.5 608.3 593.7 598.4 593.9 609.6 594.1 594.5 594.3 612.7 594.5 599.8 594.7 607.9 594.9 598 595.1 608.2 595.3 600.5 595.5 606.5 595.7 596.3 595.9 612.4 596.1 596.6 596.3 611.4 596.5 598.5 596.7 608.9 596.9 594.2 597.1 611.1 597.3 597 597.5 606.4 597.7 598.9 597.9 607 598.1 600.5 598.3 607.7 598.5 598.4 598.7 609.3 598.9 597.8 599.1 608.8 599.3 598.4 599.5 608.7 599.7 598.1 599.9 607.9 600.1 596.7 600.3 610.4 600.5 595.7 600.7 614.6 600.9 595.7 601.1 617.7 601.3 590.7 601.5 614.8 601.7 595 601.9 621.8 602.1 596.3 602.3 613.6 602.5 593.1 602.7 618.1 602.9 589 603.1 619.8 603.3 594.9 603.5 618.6 603.7 595.6 603.9 628 604.1 594.5 604.3 618.4 604.5 593.3 604.7 611.7 604.9 594.6 605.1 609.3 605.3 599.4 605.5 609.3 605.7 594.3 605.9 606.8 606.1 601.2 606.3 612.9 606.5 598.7 606.7 608.8 606.9 600.8 607.1 607.6 607.3 595.2 607.5 608.2 607.7 599.9 607.9 608 608.1 600.9 608.3 608 608.5 596.2 608.7 608.5 608.9 598.9 609.1 606.3 609.3 599.2 609.5 608 609.7 598.8 609.9 611.7 610.1 599.9 610.3 612 610.5 599.9 610.7 608.1 610.9 599.4 611.1 610.6 611.3 598.9 611.5 608.5 611.7 600.6 611.9 606.6 612.1 597.6 612.3 607.5 612.5 601.5 612.7 607 612.9 600.8 613.1 606.8 613.3 598.3 613.5 611.2 613.7 600.9 613.9 608.4 614.1 598.1 614.3 607 614.5 600.2 614.7 609.5 614.9 596.5 615.1 613.3 615.3 597.6 615.5 607.8 615.7 594.3 615.9 611.2 616.1 599.6 616.3 607.8 616.5 599 616.7 609.6 616.9 600.2 617.1 609 617.3 599.7 617.5 606.7 617.7 600.4 617.9 611.2 618.1 594.4 618.3 606.3 618.5 599.1 618.7 611.5 618.9 594.4 619.1 612 619.3 599.8 619.5 607.3 619.7 599.1 619.9 609 620.1 597.2 620.3 607 620.5 601.2 620.7 608 620.9 598 621.1 611.5 621.3 599.5 621.5 607.6 621.7 601.8 621.9 611 622.1 600.1 622.3 607.8 622.5 600.2 622.7 611.3 622.9 601.7 623.1 610.6 623.3 599.9 623.5 608.8 623.7 594.4 623.9 610.6 624.1 595.3 624.3 607.8 624.5 601.8 624.7 609 624.9 599.7 625.1 608.9 625.3 600.1 625.5 610.3 625.7 601.1 625.9 607.8 626.1 601 626.3 612.2 626.5 597 626.7 613.6 626.9 600.8 627.1 608 627.3 595.2 627.5 606.2 627.7 596.8 627.9 607.5 628.1 598.2 628.3 606.2 628.5 601.3 628.7 606.4 628.9 601.9 629.1 612.9 629.3 599.1 629.5 606.8 629.7 600.6 629.9 608.1 630.1 597.9 630.3 611.2 630.5 594.4 630.7 606.8 630.9 601.2 631.1 607.9 631.3 600.1 631.5 606.2 631.7 597.6 631.9 613.6 632.1 601.8 632.3 608.3 632.5 598.3 632.7 608.8 632.9 601.2 633.1 607.1 633.3 600.8 633.5 608.9 633.7 594.5 633.9 608.3 634.1 597.9 634.3 606.8 634.5 597.8 634.7 607.9 634.9 600.1 635.1 609.2 635.3 594.5 635.5 610.4 635.7 601.1 635.9 610.7 636.1 599 636.3 606.9 636.5 597.7 636.7 606.3 636.9 601.1 637.1 607.5 637.3 597.8 637.5 609.3 637.7 599.3 637.9 613.5 638.1 598.3 638.3 608.9 638.5 601.4 638.7 609.1 638.9 600.2 639.1 611.6 639.3 601.4 639.5 609.2 639.7 599.4 639.9 610.1 640.1 598.1 640.3 607.4 640.5 596.5 640.7 608.5 640.9 600.4 641.1 608 641.3 598.9 641.5 609.1 641.7 599.7 641.9 613.5 642.1 600.9 642.3 609.8 642.5 601.6 642.7 608.9 642.9 599.7 643.1 607.3 643.3 601 643.5 609.2 643.7 600 643.9 606.8 644.1 600.6 644.3 609.9 644.5 600.4 644.7 608.6 644.9 598.6 645.1 608.6 645.3 601.9 645.5 609.4 645.7 597.1 645.9 606.6 646.1 599.8 646.3 608.6 646.5 601.6 646.7 607.6 646.9 597.7 647.1 606.8 647.3 601.5 647.5 607.4 647.7 594.7 647.9 607.5 648.1 598.4 648.3 610.3 648.5 599.9 648.7 608 648.9 599.3 649.1 611.4 649.3 600.6 649.5 609.9 649.7 597.4 649.9 606.1 650.1 599.7 650.3 606.9 650.5 599.2 650.7 613.2 650.9 599.6 651.1 607.8 651.3 600.6 651.5 608.9 651.7 600 651.9 608.8 652.1 601.3 652.3 606.3 652.5 599.1 652.7 609.3 652.9 599.6 653.1 608 653.3 601.3 653.5 609.6 653.7 597.6 653.9 612.1 654.1 600.5 654.3 611.1 654.5 600.1 654.7 607 654.9 601.7 655.1 611.9 655.3 597.7 655.5 612.2 655.7 599.3 655.9 609.2 656.1 597.9 656.3 606.6 656.5 599.5 656.7 608.5 656.9 599.6 657.1 609.1 657.3 600.6 657.5 611.3 657.7 600.8 657.9 611.5 658.1 600.8 658.3 610.8 658.5 600.4" stroke="#00f" stroke-width="0.5" stroke-linejoin="round" fill="none"/>
<path d="M245.2 595.5v27.1M247.4 598v21M255.3 598v16M262.1 595v25M274.3 598v15M293.7 598v29M298.5 598v23M300.5 592v18M312.9 598v18M338.3 595v27M340 595v27M343.8 596v41.5M347.6 596v23M351 589.6v27.9M353.5 590v32M357.4 586.6v25.4M385.7 589v27M389 591.3v20.7M395.3 590v27.5M397.2 590v27.5M408 597v19M409.7 589v21M413.6 594v38M448 593.3v17.7M454.7 597v20M457.6 587v47M459.4 587v61.7M469 592.5v25.5M476.7 595v34.4M486.3 594v34M489.4 593.3v33.7M490.8 594v33M493 591.6v26.4M495 591.6v26.4M501.2 596v21M508.4 595.5v27.1M512.2 596v23.6M517.8 594v28M521.9 596v28.6M531.7 594.5v24.2M537.6 582.3v47.4M552.4 594.5v16.5M593.2 592.2v20.6M602.4 576v46M614.6 594.5v19.1M626.2 591.6v20.4" stroke="#00f" stroke-width="1.1" stroke-opacity=".48" fill="none"/>
<defs><linearGradient id="pD" x1="0" y1="1" x2="0" y2="0"><stop offset="0%" stop-color="#fff" stop-opacity="1"/><stop offset="50%" stop-color="#fff" stop-opacity="0.68"/><stop offset="100%" stop-color="#fff" stop-opacity="0"/></linearGradient><linearGradient id="pB" x1="0" y1="1" x2="0" y2="0"><stop offset="0%" stop-color="#fff" stop-opacity="1"/><stop offset="70%" stop-color="#fff" stop-opacity="0.95"/><stop offset="90%" stop-color="#fff" stop-opacity="0.6"/><stop offset="100%" stop-color="#fff" stop-opacity="0"/></linearGradient><linearGradient id="pK" x1="0" y1="1" x2="0" y2="0"><stop offset="0%" stop-color="#fff" stop-opacity="0.8"/><stop offset="10%" stop-color="#fff" stop-opacity="0.62"/><stop offset="40%" stop-color="#fff" stop-opacity="0.7"/><stop offset="50%" stop-color="#fff" stop-opacity="1"/><stop offset="68%" stop-color="#fff" stop-opacity="1"/><stop offset="80%" stop-color="#fff" stop-opacity="0.6"/><stop offset="100%" stop-color="#fff" stop-opacity="0"/></linearGradient><linearGradient id="pT" x1="0" y1="1" x2="0" y2="0"><stop offset="0%" stop-color="#fff" stop-opacity="1"/><stop offset="45%" stop-color="#fff" stop-opacity="1"/><stop offset="55%" stop-color="#fff" stop-opacity="0.9"/><stop offset="80%" stop-color="#fff" stop-opacity="0.85"/><stop offset="93%" stop-color="#fff" stop-opacity="0.78"/><stop offset="100%" stop-color="#fff" stop-opacity="0.64"/></linearGradient><linearGradient id="pS" x1="0" y1="1" x2="0" y2="0"><stop offset="0%" stop-color="#fff" stop-opacity="1"/><stop offset="50%" stop-color="#fff" stop-opacity="1"/><stop offset="60%" stop-color="#fff" stop-opacity="0.75"/><stop offset="68%" stop-color="#fff" stop-opacity="0.45"/><stop offset="85%" stop-color="#fff" stop-opacity="0.38"/><stop offset="100%" stop-color="#fff" stop-opacity="0.17"/></linearGradient><linearGradient id="pF" x1="0" y1="1" x2="0" y2="0"><stop offset="0%" stop-color="#fff" stop-opacity="1"/><stop offset="15%" stop-color="#fff" stop-opacity="0.92"/><stop offset="62%" stop-color="#fff" stop-opacity="0.88"/><stop offset="67%" stop-color="#fff" stop-opacity="0.6"/><stop offset="100%" stop-color="#fff" stop-opacity="0.52"/></linearGradient><linearGradient id="pQ" x1="0" y1="1" x2="0" y2="0"><stop offset="0%" stop-color="#fff" stop-opacity="1"/><stop offset="25%" stop-color="#fff" stop-opacity="0.8"/><stop offset="45%" stop-color="#fff" stop-opacity="0.85"/><stop offset="60%" stop-color="#fff" stop-opacity="1"/><stop offset="78%" stop-color="#fff" stop-opacity="1"/><stop offset="88%" stop-color="#fff" stop-opacity="0.75"/><stop offset="100%" stop-color="#fff" stop-opacity="0.4"/></linearGradient><linearGradient id="pW" x1="0" y1="1" x2="0" y2="0"><stop offset="0%" stop-color="#fff" stop-opacity="0"/><stop offset="30%" stop-color="#fff" stop-opacity="1"/><stop offset="70%" stop-color="#fff" stop-opacity="1"/><stop offset="100%" stop-color="#fff" stop-opacity="0"/></linearGradient><linearGradient id="pR" x1="0" y1="1" x2="0" y2="0"><stop offset="0%" stop-color="#fff" stop-opacity="0.7"/><stop offset="25%" stop-color="#fff" stop-opacity="0.55"/><stop offset="45%" stop-color="#fff" stop-opacity="0.6"/><stop offset="60%" stop-color="#fff" stop-opacity="1"/><stop offset="80%" stop-color="#fff" stop-opacity="1"/><stop offset="100%" stop-color="#fff" stop-opacity="0.3"/></linearGradient></defs>
<g clip-path="url(#c0)"><g filter="url(#jet)"><rect x="795" y="47" width="505" height="166" fill="#000"/><path d="M908.1 201L907.4 172.2L906.9 129L905.7 129L905.2 172.2L904.5 201Z" fill="url(#pV)" fill-opacity="0.6"/><path d="M911.4 201L911.2 173.8L911 133L909.8 133L909.6 173.8L909.4 201Z" fill="url(#pD)" fill-opacity="0.24"/><path d="M916.9 201L916.3 165.4L915.9 112L914.7 112L914.2 165.4L913.7 201Z" fill="url(#pV)" fill-opacity="0.45"/><path d="M914 201L913.7 189.4L913.4 172L912.2 172L911.9 189.4L911.5 201Z" fill="url(#pD)" fill-opacity="0.3"/><path d="M926.3 201L926.1 184.6L925.9 160L924.7 160L924.5 184.6L924.3 201Z" fill="url(#pD)" fill-opacity="0.18"/><path d="M936.2 201L936 193.4L935.8 182L934.6 182L934.4 193.4L934.2 201Z" fill="url(#pD)" fill-opacity="0.06"/><path d="M948 201L947.8 193.4L947.6 182L946.4 182L946.2 193.4L946 201Z" fill="url(#pD)" fill-opacity="0.06"/><path d="M968.1 150L968.1 113.6L968.1 59L966.9 59L966.9 113.6L966.9 150Z" fill="url(#pI)" fill-opacity="0.16"/><path d="M980.2 201L980 171.4L979.9 127L978.7 127L978.6 171.4L978.4 201Z" fill="url(#pD)" fill-opacity="0.26"/><path d="M1010.1 201L1010.1 170.6L1010 125L1008.8 125L1008.7 170.6L1008.6 201Z" fill="url(#pD)" fill-opacity="0.04"/><path d="M1036.1 201L1035 179L1033.9 146L1032.7 146L1032.7 179L1032.3 201Z" fill="url(#pD)" fill-opacity="0.5"/><path d="M1036.4 201L1036.3 170.6L1036.2 125L1035 125L1034.9 170.6L1034.8 201Z" fill="url(#pD)" fill-opacity="0.14"/><path d="M1045 201L1044.8 191.4L1044.6 177L1043.4 177L1043.2 191.4L1043 201Z" fill="url(#pD)" fill-opacity="0.22"/><path d="M1054.9 201L1054.7 187.8L1054.5 168L1053.3 168L1053.1 187.8L1052.9 201Z" fill="url(#pD)" fill-opacity="0.22"/><path d="M1066.1 201L1065.8 186.6L1065.5 165L1064.3 165L1064 186.6L1063.7 201Z" fill="url(#pD)" fill-opacity="0.28"/><path d="M1073.1 201L1072.6 176.6L1072.2 140L1071 140L1070.6 176.6L1070.1 201Z" fill="url(#pV)" fill-opacity="0.68"/><path d="M1078.7 201L1077.7 174.6L1076.8 135L1075.6 135L1074.7 174.6L1073.7 201Z" fill="url(#pD)" fill-opacity="0.42"/><path d="M1079.9 125L1079.9 98.6L1079.9 59L1078.5 59L1078.5 98.6L1078.5 125Z" fill="url(#pI)" fill-opacity="0.09"/><path d="M1087.7 201L1087.5 163.8L1087.3 108L1086.1 108L1085.9 163.8L1085.7 201Z" fill="url(#pV)" fill-opacity="0.3"/><path d="M1093.9 201L1092.9 184.6L1092 160L1090.8 160L1089.9 184.6L1088.9 201Z" fill="url(#pV)" fill-opacity="0.46"/><path d="M1093.7 201L1092.8 175.8L1092.1 138L1090.9 138L1090.2 175.8L1089.3 201Z" fill="url(#pD)" fill-opacity="0.3"/><path d="M1092.8 201L1092.5 163L1092.2 106L1091 106L1090.7 163L1090.4 201Z" fill="url(#pV)" fill-opacity="0.36"/><path d="M1094.3 201L1094.1 163L1093.9 106L1092.7 106L1092.5 163L1092.3 201Z" fill="url(#pV)" fill-opacity="0.3"/><path d="M1097.2 201L1097 167.8L1096.8 118L1095.6 118L1095.4 167.8L1095.2 201Z" fill="url(#pV)" fill-opacity="0.38"/><path d="M1102.3 201L1102.1 186.2L1101.9 164L1100.7 164L1100.5 186.2L1100.3 201Z" fill="url(#pD)" fill-opacity="0.16"/><path d="M1108.8 201L1108.7 144.2L1108.7 59L1107.7 59L1107.7 144.2L1107.6 201Z" fill="url(#pU)" fill-opacity="0.2"/><path d="M1109.5 201L1109.1 180.6L1108.8 150L1107.6 150L1107.3 180.6L1106.9 201Z" fill="url(#pD)" fill-opacity="0.3"/><path d="M1119.3 201L1118.8 183.4L1118.3 157L1117.1 157L1116.7 183.4L1116.1 201Z" fill="url(#pD)" fill-opacity="0.44"/><path d="M1126.7 201L1126.5 183.8L1126.3 158L1125.1 158L1124.9 183.8L1124.7 201Z" fill="url(#pD)" fill-opacity="0.08"/><path d="M1132.3 201L1132 156.6L1131.8 90L1130.6 90L1130.4 156.6L1130.1 201Z" fill="url(#pK)" fill-opacity="0.35"/><path d="M1140.2 201L1139.9 167L1139.6 116L1138.4 116L1138.1 167L1137.8 201Z" fill="url(#pD)" fill-opacity="0.3"/><path d="M1157.9 201L1157.7 171.4L1157.6 127L1156.4 127L1156.3 171.4L1156.1 201Z" fill="url(#pD)" fill-opacity="0.14"/><path d="M1158.3 201L1157.9 192.6L1157.6 180L1156.4 180L1156.1 192.6L1155.7 201Z" fill="url(#pD)" fill-opacity="0.14"/><path d="M1191.6 201L1191.3 187.8L1191 168L1189.8 168L1189.5 187.8L1189.2 201Z" fill="url(#pD)" fill-opacity="0.2"/><path d="M1193 201L1193 172.2L1192.9 129L1191.7 129L1191.6 172.2L1191.5 201Z" fill="url(#pD)" fill-opacity="0.06"/><path d="M1202.3 201L1202.1 185.4L1201.9 162L1200.7 162L1200.5 185.4L1200.3 201Z" fill="url(#pD)" fill-opacity="0.12"/><path d="M1245 201L1242.5 183.8L1240.5 158L1227.5 158L1225.5 183.8L1223 201Z" fill="url(#pV)" fill-opacity="0.42"/><path d="M1213.4 201L1212.2 152.6L1210.8 80L1209.3 80L1209.7 152.6L1209.6 201Z" fill="url(#pM)" fill-opacity="0.9"/><path d="M1214.6 201L1214.4 170.6L1214.3 125L1213.1 125L1213 170.6L1212.8 201Z" fill="url(#pD)" fill-opacity="0.28"/><path d="M1217.5 201L1217.1 151L1216.7 76L1215.3 76L1215.4 151L1215.3 201Z" fill="url(#pV)" fill-opacity="0.56"/><path d="M1224.8 201L1224.3 179.7L1223.6 158.4L1222.7 144.2L1222 132.8L1221.5 121.5L1220.2 59L1218.9 59L1219 121.5L1218.7 132.8L1218.2 144.2L1217.6 158.4L1217.2 179.7L1217.2 201Z" fill="url(#pT)" fill-opacity="1"/><path d="M1224.7 201L1224.4 163.8L1224.2 108L1223 108L1222.8 163.8L1222.5 201Z" fill="url(#pD)" fill-opacity="0.42"/><path d="M1227.3 201L1227.1 180.6L1226.9 150L1225.7 150L1225.5 180.6L1225.3 201Z" fill="url(#pD)" fill-opacity="0.25"/><path d="M1232.5 201L1231.1 144.2L1229.5 59L1228 59L1228.7 144.2L1228.9 201Z" fill="url(#pS)" fill-opacity="0.78"/><path d="M1234.1 201L1233.8 167.8L1233.6 118L1232.4 118L1232.2 167.8L1231.9 201Z" fill="url(#pD)" fill-opacity="0.44"/><path d="M1236.5 201L1236.1 183.8L1235.8 158L1234.6 158L1234.3 183.8L1233.9 201Z" fill="url(#pB)" fill-opacity="0.88"/><path d="M1243.9 201L1242.1 162.2L1240 104L1238.5 104L1239.3 162.2L1239.5 201Z" fill="url(#pV)" fill-opacity="0.95"/><path d="M1241.5 108L1241.5 88.4L1241.5 59L1240.5 59L1240.5 88.4L1240.5 108Z" fill="url(#pI)" fill-opacity="0.07"/><path d="M1245.7 201L1244.7 173L1243.4 131L1242.2 131L1242.8 173L1243.1 201Z" fill="url(#pD)" fill-opacity="0.5"/><path d="M1252.1 201L1250.6 178.2L1248.9 144L1247.7 144L1248.3 178.2L1248.3 201Z" fill="url(#pV)" fill-opacity="0.64"/><path d="M1254 201L1253.8 187.8L1253.6 168L1252.4 168L1252.2 187.8L1252 201Z" fill="url(#pD)" fill-opacity="0.2"/><path d="M1263 201L1262.8 194.2L1262.6 184L1261.4 184L1261.2 194.2L1261 201Z" fill="url(#pD)" fill-opacity="0.18"/><path d="M1268.8 201L1268.3 174.6L1267.9 135L1266.7 135L1266.3 174.6L1265.8 201Z" fill="url(#pD)" fill-opacity="0.38"/><path d="M1272.1 201L1271.9 178.2L1271.7 144L1270.5 144L1270.3 178.2L1270.1 201Z" fill="url(#pD)" fill-opacity="0.16"/><path d="M1216 201L1215.4 190.2L1214.9 174L1213.7 174L1213.2 190.2L1212.6 201Z" fill="url(#pD)" fill-opacity="0.45"/><path d="M1228.6 201L1227.8 187L1227.2 166L1226 166L1225.4 187L1224.6 201Z" fill="url(#pD)" fill-opacity="0.7"/><path d="M1239.7 201L1239.2 185.4L1238.8 162L1237.6 162L1237.2 185.4L1236.7 201Z" fill="url(#pB)" fill-opacity="0.6"/></g></g>
<g clip-path="url(#c1)"><g filter="url(#jet)"><rect x="795" y="283" width="505" height="166" fill="#000"/><path d="M894 437L894 414.6L893.9 381L892.7 381L892.6 414.6L892.5 437Z" fill="url(#pD)" fill-opacity="0.08"/><path d="M908.6 437L907.8 411.8L907.2 374L906 374L905.4 411.8L904.6 437Z" fill="url(#pD)" fill-opacity="0.64"/><path d="M912.2 437L911.9 419.4L911.6 393L910.4 393L910.1 419.4L909.8 437Z" fill="url(#pD)" fill-opacity="0.3"/><path d="M917.8 437L917.7 417.8L917.6 389L916.4 389L916.3 417.8L916.2 437Z" fill="url(#pD)" fill-opacity="0.06"/><path d="M921.8 437L921.7 417.8L921.6 389L920.4 389L920.3 417.8L920.2 437Z" fill="url(#pD)" fill-opacity="0.06"/><path d="M931.3 437L931.1 413.4L931 378L929.8 378L929.7 413.4L929.5 437Z" fill="url(#pD)" fill-opacity="0.2"/><path d="M935.2 437L935 425.4L934.8 408L933.6 408L933.4 425.4L933.2 437Z" fill="url(#pD)" fill-opacity="0.15"/><path d="M945.7 437L945.5 425.4L945.3 408L944.1 408L943.9 425.4L943.7 437Z" fill="url(#pD)" fill-opacity="0.1"/><path d="M968.2 400L968.2 358L968.2 295L967 295L967 358L967 400Z" fill="url(#pI)" fill-opacity="0.08"/><path d="M980.9 437L980.5 380.2L980.1 295L978.6 295L978.3 380.2L977.9 437Z" fill="url(#pF)" fill-opacity="0.66"/><path d="M1036.8 437L1036.7 427L1036.6 412L1035.4 412L1035.3 427L1035.2 437Z" fill="url(#pD)" fill-opacity="0.05"/><path d="M1043.9 437L1043.7 423L1043.5 402L1042.3 402L1042.1 423L1041.9 437Z" fill="url(#pD)" fill-opacity="0.15"/><path d="M1072.4 437L1072.2 420.2L1072 395L1070.8 395L1070.6 420.2L1070.4 437Z" fill="url(#pD)" fill-opacity="0.07"/><path d="M1076.9 437L1076.9 380.2L1076.9 295L1075.5 295L1075.5 380.2L1075.5 437Z" fill="url(#pU)" fill-opacity="0.13"/><path d="M1079.7 437L1079.7 380.2L1079.7 295L1078.3 295L1078.3 380.2L1078.3 437Z" fill="url(#pU)" fill-opacity="0.14"/><path d="M1077.5 437L1077.1 421L1076.8 397L1075.6 397L1075.3 421L1075 437Z" fill="url(#pD)" fill-opacity="0.2"/><path d="M1080.2 437L1079.9 421L1079.6 397L1078.4 397L1078.1 421L1077.8 437Z" fill="url(#pD)" fill-opacity="0.2"/><path d="M1093.2 437L1092.5 422.2L1092 400L1090.8 400L1090.3 422.2L1089.6 437Z" fill="url(#pD)" fill-opacity="0.44"/><path d="M1097 437L1096.9 408.6L1096.8 366L1095.6 366L1095.5 408.6L1095.5 437Z" fill="url(#pD)" fill-opacity="0.05"/><path d="M1102 437L1102 398.6L1101.9 341L1100.7 341L1100.6 398.6L1100.5 437Z" fill="url(#pD)" fill-opacity="0.06"/><path d="M1108.9 437L1108.9 380.2L1108.9 295L1107.5 295L1107.5 380.2L1107.5 437Z" fill="url(#pU)" fill-opacity="0.14"/><path d="M1109.5 437L1109.1 421L1108.8 397L1107.6 397L1107.3 421L1107 437Z" fill="url(#pD)" fill-opacity="0.28"/><path d="M1118.1 437L1117.9 427.8L1117.7 414L1116.5 414L1116.3 427.8L1116.1 437Z" fill="url(#pD)" fill-opacity="0.2"/><path d="M1125.7 437L1125.5 425.4L1125.3 408L1124.1 408L1123.9 425.4L1123.7 437Z" fill="url(#pD)" fill-opacity="0.07"/><path d="M1132.9 437L1132.4 403.4L1132 353L1130.8 353L1130.4 403.4L1129.9 437Z" fill="url(#pD)" fill-opacity="0.62"/><path d="M1140.1 437L1139.8 406.2L1139.6 360L1138.4 360L1138.2 406.2L1137.9 437Z" fill="url(#pV)" fill-opacity="0.44"/><path d="M1145.8 437L1145 419.4L1144.4 393L1143.2 393L1142.6 419.4L1141.8 437Z" fill="url(#pD)" fill-opacity="0.44"/><path d="M1147.5 437L1147.1 422.2L1146.8 400L1145.6 400L1145.3 422.2L1145 437Z" fill="url(#pD)" fill-opacity="0.3"/><path d="M1158.5 437L1157.7 411L1157.1 372L1155.9 372L1155.3 411L1154.5 437Z" fill="url(#pC)" fill-opacity="0.52"/><path d="M1161 437L1160.8 427.8L1160.6 414L1159.4 414L1159.2 427.8L1159 437Z" fill="url(#pD)" fill-opacity="0.2"/><path d="M1164.2 437L1164.1 411.8L1164 374L1162.8 374L1162.7 411.8L1162.6 437Z" fill="url(#pD)" fill-opacity="0.17"/><path d="M1170.3 437L1170.2 411.8L1170.1 374L1168.9 374L1168.8 411.8L1168.7 437Z" fill="url(#pD)" fill-opacity="0.17"/><path d="M1177.5 437L1177.4 415.4L1177.3 383L1176.1 383L1176 415.4L1175.9 437Z" fill="url(#pD)" fill-opacity="0.15"/><path d="M1202.4 437L1202.2 412.6L1202.1 376L1200.9 376L1200.8 412.6L1200.6 437Z" fill="url(#pD)" fill-opacity="0.22"/><path d="M1211.7 437L1211.3 393.4L1210.8 328L1209.5 328L1209.6 393.4L1209.5 437Z" fill="url(#pN)" fill-opacity="0.62"/><path d="M1220.6 437L1220.4 380.2L1220.2 295L1218.7 295L1218.4 380.2L1218.2 437Z" fill="url(#pQ)" fill-opacity="0.9"/><path d="M1224 437L1222.8 422.2L1221.8 407.5L1221.1 392.8L1220.6 378L1219 378L1218.5 392.8L1217.8 407.5L1216.8 422.2L1215.6 437Z" fill="url(#pV)" fill-opacity="1"/><path d="M1218.2 437L1217.9 406.2L1217.6 360L1216.4 360L1216.1 406.2L1215.8 437Z" fill="url(#pD)" fill-opacity="0.3"/><path d="M1223.2 437L1222.9 406.2L1222.6 360L1221.4 360L1221.1 406.2L1220.8 437Z" fill="url(#pD)" fill-opacity="0.34"/><path d="M1230.1 437L1229.5 406.2L1229.1 360L1227.9 360L1227.5 406.2L1226.9 437Z" fill="url(#pD)" fill-opacity="0.7"/><path d="M1234.5 437L1234.2 414.6L1233.9 381L1232.7 381L1232.4 414.6L1232 437Z" fill="url(#pD)" fill-opacity="0.38"/><path d="M1242.4 437L1241.1 405.4L1239.6 358L1238.4 358L1238.8 405.4L1238.8 437Z" fill="url(#pV)" fill-opacity="0.92"/><path d="M1251.3 437L1250.4 420.2L1249.7 395L1248.5 395L1247.8 420.2L1246.8 437Z" fill="url(#pD)" fill-opacity="0.44"/><path d="M1261.5 437L1260.5 424.6L1259.6 406L1258.4 406L1257.5 424.6L1256.5 437Z" fill="url(#pD)" fill-opacity="0.33"/><path d="M1269 437L1268.5 404.2L1268.1 355L1266.9 355L1266.5 404.2L1266 437Z" fill="url(#pD)" fill-opacity="0.44"/><path d="M1272.5 437L1272 402.6L1271.6 351L1270.4 351L1270 402.6L1269.5 437Z" fill="url(#pD)" fill-opacity="0.48"/><path d="M1271.5 437L1270.5 430.2L1269.6 420L1268.4 420L1267.5 430.2L1266.5 437Z" fill="url(#pD)" fill-opacity="0.2"/></g></g>
<g clip-path="url(#c2)"><g filter="url(#jet)"><rect x="795" y="519" width="505" height="166" fill="#000"/><path d="M1106 654L1105.9 631.6L1105.9 598L1104.7 598L1104.7 631.6L1104.6 654Z" fill="url(#pW)" fill-opacity="0.09"/><path d="M1137.6 673L1137.3 643.8L1137.1 600L1135.9 600L1135.7 643.8L1135.4 673Z" fill="url(#pN)" fill-opacity="0.38"/><path d="M1156.3 662L1156.2 655.6L1156.2 646L1155 646L1155 655.6L1154.9 662Z" fill="url(#pW)" fill-opacity="0.05"/><path d="M1211.1 618L1211 610L1211 598L1209.8 598L1209.8 610L1209.7 618Z" fill="url(#pW)" fill-opacity="0.05"/><path d="M1220.2 640L1220.1 599.6L1220 539L1218.8 539L1218.7 599.6L1218.6 640Z" fill="url(#pR)" fill-opacity="0.34"/><path d="M1219.5 673L1219.2 645.4L1219 604L1217.4 604L1217.2 645.4L1216.9 673Z" fill="url(#pV)" fill-opacity="0.42"/><path d="M1222.6 673L1222.3 651.8L1222.1 620L1220.3 620L1220.1 651.8L1219.8 673Z" fill="url(#pV)" fill-opacity="0.68"/><path d="M1234 670L1233.9 664L1233.9 655L1232.7 655L1232.7 664L1232.6 670Z" fill="url(#pW)" fill-opacity="0.05"/></g></g>
<path d="M927.8 59v4.5M927.8 201v-4.5M1046.5 59v4.5M1046.5 201v-4.5M1165.2 59v4.5M1165.2 201v-4.5M809 198.9h5M1284 198.9h-5M809 182.7h5M1284 182.7h-5M809 168.4h5M1284 168.4h-5M809 155.7h5M1284 155.7h-5M809 133.6h5M1284 133.6h-5M809 114.9h5M1284 114.9h-5M809 98.7h5M1284 98.7h-5M809 84.4h5M1284 84.4h-5M809 71.7h5M1284 71.7h-5M809 60.1h5M1284 60.1h-5M927.8 295v4.5M927.8 437v-4.5M1046.5 295v4.5M1046.5 437v-4.5M1165.2 295v4.5M1165.2 437v-4.5M809 434.9h5M1284 434.9h-5M809 418.7h5M1284 418.7h-5M809 404.4h5M1284 404.4h-5M809 391.7h5M1284 391.7h-5M809 369.6h5M1284 369.6h-5M809 350.9h5M1284 350.9h-5M809 334.7h5M1284 334.7h-5M809 320.4h5M1284 320.4h-5M809 307.7h5M1284 307.7h-5M809 296.1h5M1284 296.1h-5M927.8 531v4.5M927.8 673v-4.5M1046.5 531v4.5M1046.5 673v-4.5M1165.2 531v4.5M1165.2 673v-4.5M809 670.9h5M1284 670.9h-5M809 654.7h5M1284 654.7h-5M809 640.4h5M1284 640.4h-5M809 627.7h5M1284 627.7h-5M809 605.6h5M1284 605.6h-5M809 586.9h5M1284 586.9h-5M809 570.7h5M1284 570.7h-5M809 556.4h5M1284 556.4h-5M809 543.7h5M1284 543.7h-5M809 532.1h5M1284 532.1h-5" stroke="#000" stroke-opacity=".38" stroke-width="1" fill="none"/>
<rect x="809" y="59" width="475" height="142" fill="none" stroke="#000" stroke-opacity=".28" stroke-width="1"/>
<rect x="809" y="295" width="475" height="142" fill="none" stroke="#000" stroke-opacity=".28" stroke-width="1"/>
<rect x="809" y="531" width="475" height="142" fill="none" stroke="#000" stroke-opacity=".28" stroke-width="1"/>
<rect x="184.4" y="59.4" width="474" height="145" fill="none" stroke="#b2b2b2" stroke-width="1.2"/>
<rect x="184.4" y="295.4" width="474" height="145" fill="none" stroke="#b2b2b2" stroke-width="1.2"/>
<rect x="184.4" y="531.4" width="474" height="145" fill="none" stroke="#b2b2b2" stroke-width="1.2"/>
</svg>
</body></html>
